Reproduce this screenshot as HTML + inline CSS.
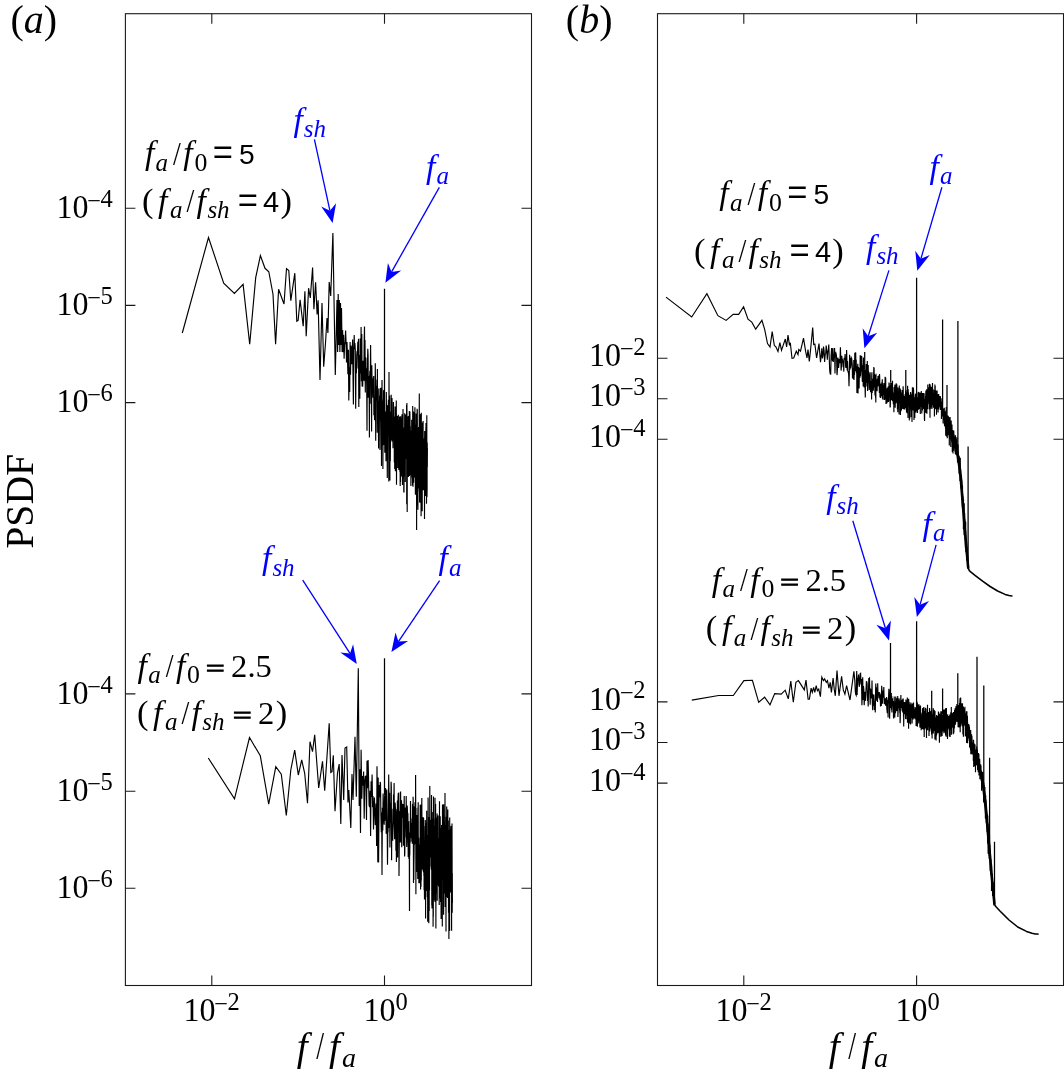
<!DOCTYPE html>
<html lang="en"><head><meta charset="utf-8"><title>PSDF spectra</title>
<style>html,body{margin:0;padding:0;background:#fff}svg{display:block}</style></head>
<body>
<svg width="1064" height="1080" viewBox="0 0 1064 1080">
<rect width="1064" height="1080" fill="#fff"/>
<rect x="125.4" y="13.7" width="406.1" height="971.8" stroke="#1a1a1a" stroke-width="1.1" fill="none"/>
<rect x="657.5" y="13.7" width="406.0" height="971.8" stroke="#1a1a1a" stroke-width="1.1" fill="none"/>
<path d="M211.8 13.7v10.0 M211.8 985.5v-10.0 M384.5 13.7v10.0 M384.5 985.5v-10.0 M125.4 208.2h10.0 M531.5 208.2h-10.0 M125.4 305.4h10.0 M531.5 305.4h-10.0 M125.4 402.6h10.0 M531.5 402.6h-10.0 M125.4 693.9h10.0 M531.5 693.9h-10.0 M125.4 791.2h10.0 M531.5 791.2h-10.0 M125.4 888.3h10.0 M531.5 888.3h-10.0 " stroke="#1a1a1a" stroke-width="1.1" fill="none"/>
<path d="M743.8 13.7v10.0 M743.8 985.5v-10.0 M916.6 13.7v10.0 M916.6 985.5v-10.0 M657.5 358.3h10.0 M1063.5 358.3h-10.0 M657.5 398.7h10.0 M1063.5 398.7h-10.0 M657.5 439.2h10.0 M1063.5 439.2h-10.0 M657.5 701.9h10.0 M1063.5 701.9h-10.0 M657.5 742.5h10.0 M1063.5 742.5h-10.0 M657.5 783.1h10.0 M1063.5 783.1h-10.0 " stroke="#1a1a1a" stroke-width="1.1" fill="none"/>
<path d="M182.3 333.0 L208.5 237.5 L223.7 283.2 L234.4 293.5 L243.1 284.4 L249.7 344.3 L255.7 277.7 L260.4 255.6 L265.0 268.3 L268.8 271.7 L273.0 294.2 L275.6 344.3 L278.6 289.2 L284.0 304.0 L286.5 268.6 L288.8 270.6 L290.8 300.7 L294.8 273.2 L296.8 321.3 L298.1 320.5 L300.1 299.9 L303.2 326.2 L304.9 291.2 L306.2 336.3 L308.6 288.2 L310.3 298.0 L312.6 267.6 L313.9 309.2 L315.6 282.2 L317.1 314.5 L318.1 300.2 L320.0 380.0 L322.0 303.0 L323.7 366.7 L325.5 343.0 L327.0 318.0 L327.9 333.0 L329.2 282.0 L330.7 296.0 L332.9 233.0 L335.3 375.0 L337.0 300.0 L337.6 352.0 L338.2 294.0 L338.8 345.0 L339.3 300.0 L339.9 352.0 L340.5 303.0 L341.0 345.0 L341.5 308.0 L342.1 352.0 L342.6 330.0 L343.1 352.2 L343.6 334.7 L344.1 358.7 L344.6 344.7 L345.1 342.2 L345.6 330.4 L346.1 343.7 L346.5 362.6 L347.0 341.9 L347.5 359.2 L347.9 374.3 L348.4 349.8 L348.8 400.4 L349.3 367.2 L349.7 391.9 L350.1 342.1 L350.5 374.7 L351.0 345.6 L351.4 349.0 L351.8 364.2 L352.2 353.2 L352.6 339.5 L353.0 375.5 L353.4 404.5 L353.8 350.6 L354.2 335.1 L354.5 349.1 L354.9 343.1 L355.3 349.8 L355.7 408.7 L356.0 368.6 L356.4 373.3 L356.7 356.1 L357.1 351.0 L357.5 353.4 L357.8 341.8 L358.1 368.6 L358.5 338.8 L358.8 407.0 L359.2 354.9 L359.5 391.0 L359.8 398.7 L360.2 338.6 L360.5 373.4 L360.8 360.8 L361.1 327.0 L361.4 381.2 L361.8 333.9 L362.1 386.4 L362.4 367.9 L362.7 386.7 L363.0 360.7 L363.3 373.7 L363.6 380.8 L363.9 373.4 L364.2 339.3 L364.5 326.6 L364.8 381.2 L365.0 340.0 L365.3 392.4 L365.6 357.2 L365.9 379.0 L366.2 368.3 L366.5 373.3 L366.7 385.4 L367.0 430.8 L367.3 358.0 L367.5 363.5 L367.8 348.7 L368.1 355.8 L368.3 397.7 L368.6 392.8 L368.9 395.1 L369.1 375.9 L369.4 437.4 L369.6 378.1 L369.9 370.8 L370.1 403.7 L370.4 368.5 L370.6 344.9 L370.9 378.2 L371.1 375.0 L371.4 383.9 L371.6 431.4 L371.8 365.2 L372.1 387.9 L372.3 377.5 L372.6 385.1 L372.8 390.8 L373.0 397.7 L373.2 385.4 L373.5 381.9 L373.7 376.1 L373.9 415.2 L374.2 411.3 L374.4 412.2 L374.6 420.3 L374.8 398.1 L375.0 399.6 L375.3 363.2 L375.5 389.7 L375.7 440.7 L375.9 379.6 L376.1 395.8 L376.3 400.4 L376.6 394.9 L376.8 388.8 L377.0 385.8 L377.2 432.7 L377.4 368.9 L377.6 417.5 L377.8 416.3 L378.0 403.3 L378.2 401.3 L378.4 423.9 L378.6 448.6 L378.8 388.5 L379.0 407.9 L379.2 414.1 L379.4 404.5 L379.6 419.1 L379.8 395.7 L380.0 450.1 L380.2 414.7 L380.4 388.0 L380.5 420.6 L380.7 389.7 L380.9 387.8 L381.1 394.6 L381.3 393.6 L381.5 466.1 L381.7 398.5 L381.9 404.1 L382.0 380.1 L382.2 401.8 L382.4 446.0 L382.6 405.9 L382.8 400.6 L382.9 469.0 L383.1 408.9 L383.3 411.5 L383.5 404.8 L383.6 390.2 L383.8 409.5 L384.0 445.0 L384.2 389.8 L384.3 422.4 L384.5 426.8 L384.7 431.0 L384.8 452.8 L385.0 428.4 L385.2 422.8 L385.3 415.8 L385.5 411.5 L385.7 447.0 L385.8 425.8 L386.0 461.3 L386.2 411.5 L386.3 391.9 L386.5 417.2 L386.7 436.9 L386.8 421.8 L387.0 405.6 L387.1 437.4 L387.3 478.0 L387.5 440.6 L387.6 425.7 L387.8 405.0 L387.9 418.9 L388.1 416.2 L388.2 412.7 L388.4 399.8 L388.5 425.1 L388.7 435.7 L388.8 481.5 L389.0 372.0 L389.1 404.6 L389.3 417.2 L389.4 429.6 L389.6 395.5 L389.7 398.7 L389.9 480.6 L390.0 425.0 L390.2 428.4 L390.3 461.3 L390.5 435.7 L390.6 417.1 L390.8 420.1 L390.9 411.8 L391.1 438.9 L391.2 394.8 L391.3 408.0 L391.5 440.0 L391.6 425.3 L391.8 415.6 L391.9 441.4 L392.0 398.0 L392.2 419.5 L392.3 419.9 L392.5 421.4 L392.6 421.8 L392.7 421.6 L392.9 418.3 L393.0 448.3 L393.1 434.9 L393.3 431.0 L393.4 401.9 L393.5 405.4 L393.7 433.0 L393.8 437.0 L393.9 428.6 L394.1 432.1 L394.2 427.8 L394.3 462.3 L394.5 433.5 L394.6 416.4 L394.7 469.1 L394.9 448.3 L395.0 436.5 L395.1 406.5 L395.3 450.5 L395.4 471.3 L395.5 413.8 L395.6 443.4 L395.8 411.9 L395.9 444.3 L396.0 424.2 L396.1 441.2 L396.3 400.5 L396.4 438.8 L396.5 484.8 L396.6 460.9 L396.8 419.5 L396.9 439.6 L397.0 420.0 L397.1 453.0 L397.2 420.0 L397.4 415.9 L397.5 430.8 L397.6 419.1 L397.7 434.2 L397.8 468.0 L398.0 446.5 L398.1 439.2 L398.2 429.8 L398.3 414.7 L398.4 429.3 L398.6 445.1 L398.7 432.7 L398.8 470.0 L398.9 421.8 L399.0 432.5 L399.1 463.9 L399.3 430.4 L399.4 457.1 L399.5 421.4 L399.6 416.4 L399.7 441.7 L399.8 440.0 L399.9 472.1 L400.1 459.1 L400.2 485.9 L400.3 426.4 L400.4 416.7 L400.5 481.9 L400.6 451.5 L400.7 416.2 L400.8 441.2 L400.9 464.8 L401.1 463.0 L401.2 433.3 L401.3 418.0 L401.4 455.0 L401.5 476.6 L401.6 419.8 L401.7 418.7 L401.8 446.9 L401.9 450.9 L402.0 414.3 L402.1 457.2 L402.2 429.3 L402.3 439.1 L402.5 485.1 L402.6 439.2 L402.7 477.7 L402.8 466.0 L402.9 468.9 L403.0 408.9 L403.1 417.0 L403.2 471.9 L403.3 468.3 L403.4 473.1 L403.5 431.5 L403.6 427.4 L403.7 463.7 L403.8 492.6 L403.9 488.5 L404.0 492.5 L404.1 436.3 L404.2 459.4 L404.3 442.8 L404.4 432.1 L404.5 476.6 L404.6 438.1 L404.7 413.2 L404.8 469.3 L404.9 444.9 L405.0 415.7 L405.1 439.3 L405.2 420.1 L405.3 482.1 L405.4 423.4 L405.5 443.6 L405.6 451.2 L405.7 414.6 L405.8 450.1 L405.9 422.7 L406.0 448.3 L406.1 436.3 L406.2 458.6 L406.3 456.6 L406.4 450.4 L406.5 448.8 L406.6 405.1 L406.7 441.8 L406.7 504.3 L406.8 477.9 L406.9 402.9 L407.0 424.4 L407.1 416.8 L407.2 511.9 L407.3 445.0 L407.4 426.3 L407.5 426.0 L407.6 467.1 L407.7 431.7 L407.8 431.4 L407.9 432.5 L408.0 459.2 L408.0 444.2 L408.1 455.6 L408.2 435.2 L408.3 416.0 L408.4 477.0 L408.5 417.0 L408.6 470.6 L408.7 465.6 L408.8 419.0 L408.9 446.5 L408.9 450.9 L409.0 431.6 L409.1 447.4 L409.2 440.8 L409.3 410.9 L409.4 476.1 L409.5 471.0 L409.6 442.9 L409.6 467.6 L409.7 463.5 L409.8 466.6 L409.9 411.4 L410.0 420.9 L410.1 453.4 L410.2 440.6 L410.3 430.5 L410.3 426.2 L410.4 475.1 L410.5 446.5 L410.6 457.3 L410.7 430.5 L410.8 448.5 L410.8 454.2 L410.9 486.0 L411.0 472.3 L411.1 464.1 L411.2 435.3 L411.3 465.9 L411.4 461.0 L411.4 447.9 L411.5 457.8 L411.6 446.0 L411.7 419.7 L411.8 463.5 L411.8 446.0 L411.9 463.9 L412.0 446.9 L412.1 471.6 L412.2 477.4 L412.3 440.4 L412.3 436.8 L412.4 475.0 L412.5 479.4 L412.6 485.4 L412.7 466.0 L412.7 406.1 L412.8 480.9 L412.9 428.2 L413.0 486.8 L413.1 429.0 L413.1 469.6 L413.2 427.7 L413.3 459.7 L413.4 411.4 L413.5 432.4 L413.5 438.0 L413.6 445.6 L413.7 482.8 L413.8 459.1 L413.9 437.3 L413.9 473.1 L414.0 454.1 L414.1 472.5 L414.2 441.3 L414.2 412.3 L414.3 455.8 L414.4 441.4 L414.5 463.0 L414.5 447.5 L414.6 477.6 L414.7 432.7 L414.8 441.7 L414.9 407.3 L414.9 431.5 L415.0 450.8 L415.1 431.5 L415.2 445.5 L415.2 450.1 L415.3 430.4 L415.4 494.2 L415.5 494.5 L415.5 451.8 L415.6 431.3 L415.7 446.8 L415.8 424.5 L415.8 447.4 L415.9 453.5 L416.0 432.2 L416.0 441.8 L416.1 447.4 L416.2 413.6 L416.3 447.3 L416.3 440.3 L416.4 443.9 L416.5 488.7 L416.6 481.5 L416.6 530.0 L416.7 454.0 L416.8 441.2 L416.8 426.1 L416.9 506.1 L417.0 458.9 L417.1 414.0 L417.1 408.8 L417.2 436.5 L417.3 409.7 L417.4 463.5 L417.4 485.6 L417.5 455.6 L417.6 445.9 L417.6 428.1 L417.7 435.8 L417.8 445.8 L417.8 452.6 L417.9 509.7 L418.0 452.1 L418.1 488.7 L418.1 473.4 L418.2 467.8 L418.3 436.9 L418.3 439.0 L418.4 452.2 L418.5 487.9 L418.5 452.1 L418.6 426.9 L418.7 437.1 L418.7 439.7 L418.8 462.6 L418.9 471.5 L419.0 446.1 L419.0 429.3 L419.1 458.3 L419.2 443.7 L419.2 428.4 L419.3 393.5 L419.4 460.0 L419.4 491.3 L419.5 476.3 L419.6 502.6 L419.6 458.0 L419.7 433.2 L419.8 444.4 L419.8 450.8 L419.9 444.8 L420.0 488.0 L420.0 478.5 L420.1 446.4 L420.2 469.1 L420.2 468.7 L420.3 459.0 L420.4 475.4 L420.4 453.9 L420.5 414.2 L420.5 453.0 L420.6 463.5 L420.7 444.1 L420.7 447.6 L420.8 503.0 L420.9 413.9 L420.9 457.1 L421.0 486.1 L421.1 516.3 L421.1 438.7 L421.2 440.9 L421.3 412.8 L421.3 488.7 L421.4 428.7 L421.5 435.6 L421.5 484.1 L421.6 426.5 L421.6 466.0 L421.7 483.8 L421.8 444.6 L421.8 491.0 L421.9 456.2 L422.0 457.1 L422.0 444.5 L422.1 452.0 L422.1 448.5 L422.2 511.3 L422.3 462.5 L422.3 460.3 L422.4 452.5 L422.5 466.8 L422.5 422.4 L422.6 464.5 L422.6 449.2 L422.7 441.6 L422.8 450.9 L422.8 480.7 L422.9 465.1 L423.0 451.3 L423.0 473.3 L423.1 442.7 L423.1 420.9 L423.2 452.6 L423.3 453.0 L423.3 490.2 L423.4 461.3 L423.4 467.1 L423.5 443.5 L423.6 471.3 L423.6 463.9 L423.7 465.3 L423.7 438.7 L423.8 480.6 L423.9 472.7 L423.9 485.4 L424.0 443.9 L424.0 479.0 L424.1 455.4 L424.2 441.3 L424.2 489.6 L424.3 451.9 L424.3 451.8 L424.4 465.2 L424.5 437.8 L424.5 519.0 L424.6 451.0 L424.6 444.0 L424.7 430.9 L424.7 439.7 L424.8 441.5 L424.9 470.3 L424.9 449.9 L425.0 461.3 L425.0 453.8 L425.1 447.5 L425.2 464.9 L425.2 469.5 L425.3 475.3 L425.3 458.4 L425.4 457.5 L425.4 484.9 L425.5 495.9 L425.6 455.6 L425.6 454.7 L425.7 487.4 L425.7 467.5 L425.8 463.3 L425.8 433.2 L425.9 426.9 L426.0 473.2 L426.0 423.0 L426.1 450.0 L426.1 441.3 L426.2 426.6 L426.2 489.3 L426.3 468.1 L426.3 451.7 L426.4 467.3 L426.5 465.9 L426.5 503.8 L426.6 495.1 L426.6 474.1 L426.7 484.3 L426.7 464.9 L426.8 415.2 L426.8 474.9 L426.9 485.2 L427.0 465.7 L427.0 496.9 L427.1 489.0 L427.1 452.7 L427.2 451.2 L427.2 442.6 L427.3 453.1 L427.3 467.1 L427.4 447.9" fill="none" stroke="#000" stroke-width="1.15" stroke-linejoin="miter" stroke-miterlimit="4"/>
<path d="M208.3 758.0 L234.5 798.8 L249.5 737.5 L260.3 755.8 L268.7 804.2 L275.8 766.7 L281.3 774.2 L286.3 815.5 L290.8 770.0 L294.7 750.0 L298.3 775.0 L301.7 760.0 L304.7 773.3 L307.5 803.3 L310.0 741.7 L312.5 751.7 L314.7 734.7 L318.7 788.0 L322.5 761.3 L324.7 790.8 L329.2 723.3 L330.8 772.5 L332.0 771.7 L333.3 755.3 L335.0 811.3 L337.5 773.0 L339.2 764.0 L340.8 824.0 L342.0 755.0 L343.7 800.0 L345.0 748.0 L346.7 747.0 L348.0 802.5 L348.8 790.0 L350.8 828.0 L352.0 774.0 L353.0 800.0 L355.0 736.7 L356.3 796.7 L358.3 668.3 L359.2 805.9 L359.8 769.3 L360.5 832.9 L361.1 749.8 L361.8 798.8 L362.4 776.1 L363.0 785.7 L363.6 771.6 L364.2 818.7 L364.8 781.3 L365.3 776.4 L365.9 776.1 L366.5 819.9 L367.0 760.7 L367.5 788.2 L368.1 760.1 L368.6 780.6 L369.1 805.2 L369.6 807.0 L370.1 790.7 L370.6 835.9 L371.1 781.3 L371.6 797.1 L372.1 774.5 L372.6 807.2 L373.0 796.1 L373.5 829.6 L373.9 814.8 L374.4 797.4 L374.8 807.2 L375.3 825.1 L375.7 822.6 L376.1 803.5 L376.6 846.0 L377.0 766.2 L377.4 808.8 L377.8 862.3 L378.2 777.5 L378.6 862.6 L379.0 804.0 L379.4 785.1 L379.8 797.2 L380.2 781.9 L380.5 783.1 L380.9 815.7 L381.3 832.2 L381.7 812.5 L382.0 875.0 L382.4 807.8 L382.8 830.5 L383.1 793.5 L383.5 814.0 L383.8 818.5 L384.2 824.8 L384.5 795.4 L384.8 821.0 L385.2 807.4 L385.5 788.0 L385.8 796.8 L386.2 833.8 L386.5 806.4 L386.8 789.4 L387.1 816.3 L387.5 864.8 L387.8 830.1 L388.1 830.6 L388.4 814.3 L388.7 774.6 L389.0 801.2 L389.3 828.1 L389.6 792.8 L389.9 847.5 L390.2 824.8 L390.5 803.1 L390.8 822.6 L391.1 781.8 L391.3 785.9 L391.6 860.3 L391.9 808.8 L392.2 838.1 L392.5 839.0 L392.7 840.7 L393.0 828.8 L393.3 822.6 L393.5 794.4 L393.8 806.6 L394.1 783.0 L394.3 814.6 L394.6 839.3 L394.9 827.5 L395.1 802.5 L395.4 807.5 L395.6 810.7 L395.9 850.8 L396.1 811.3 L396.4 862.0 L396.6 844.6 L396.9 809.0 L397.1 827.4 L397.4 800.4 L397.6 857.4 L397.8 810.1 L398.1 796.8 L398.3 793.1 L398.6 818.1 L398.8 792.6 L399.0 876.1 L399.3 840.8 L399.5 831.9 L399.7 811.1 L399.9 842.4 L400.2 815.7 L400.4 810.4 L400.6 791.6 L400.8 816.6 L401.1 842.5 L401.3 819.7 L401.5 800.3 L401.7 847.3 L401.9 809.2 L402.1 818.1 L402.3 803.7 L402.6 814.0 L402.8 810.8 L403.0 805.4 L403.2 804.1 L403.4 845.8 L403.6 813.1 L403.8 822.7 L404.0 814.9 L404.2 796.1 L404.4 822.4 L404.6 856.5 L404.8 853.3 L405.0 807.4 L405.2 837.4 L405.4 824.7 L405.6 819.1 L405.8 820.8 L406.0 827.3 L406.2 796.0 L406.4 812.7 L406.6 838.3 L406.7 846.9 L406.9 842.0 L407.1 805.6 L407.3 807.1 L407.5 812.3 L407.7 826.4 L407.9 813.2 L408.0 824.9 L408.2 857.1 L408.4 821.3 L408.6 839.3 L408.8 838.4 L408.9 859.0 L409.1 832.5 L409.3 853.8 L409.5 911.0 L409.6 841.3 L409.8 855.3 L410.0 821.0 L410.2 842.4 L410.3 828.1 L410.5 801.1 L410.7 823.6 L410.8 837.9 L411.0 818.4 L411.2 831.9 L411.4 832.7 L411.5 827.0 L411.7 834.1 L411.8 841.8 L412.0 839.9 L412.2 823.1 L412.3 843.8 L412.5 804.1 L412.7 824.3 L412.8 821.6 L413.0 824.7 L413.1 796.7 L413.3 810.2 L413.5 883.1 L413.6 806.2 L413.8 880.0 L413.9 866.0 L414.1 852.0 L414.2 833.6 L414.4 844.8 L414.5 821.8 L414.7 806.6 L414.9 843.9 L415.0 802.3 L415.2 831.2 L415.3 824.0 L415.5 815.5 L415.6 775.0 L415.8 839.0 L415.9 894.3 L416.0 807.9 L416.2 854.8 L416.3 815.2 L416.5 821.9 L416.6 841.9 L416.8 815.0 L416.9 848.5 L417.1 871.9 L417.2 826.8 L417.4 843.5 L417.5 865.3 L417.6 865.9 L417.8 879.0 L417.9 807.5 L418.1 826.9 L418.2 802.2 L418.3 874.5 L418.5 850.3 L418.6 837.9 L418.7 838.1 L418.9 883.2 L419.0 845.0 L419.2 853.6 L419.3 876.8 L419.4 862.6 L419.6 883.2 L419.7 851.8 L419.8 844.4 L420.0 857.6 L420.1 835.1 L420.2 804.8 L420.4 839.2 L420.5 819.6 L420.6 889.6 L420.7 828.8 L420.9 814.3 L421.0 886.8 L421.1 804.6 L421.3 880.6 L421.4 814.4 L421.5 852.7 L421.6 836.4 L421.8 798.0 L421.9 814.9 L422.0 830.5 L422.1 865.3 L422.3 869.2 L422.4 859.5 L422.5 847.3 L422.6 842.0 L422.8 837.9 L422.9 870.4 L423.0 869.5 L423.1 816.9 L423.3 839.6 L423.4 872.2 L423.5 837.3 L423.6 817.9 L423.7 830.6 L423.9 875.8 L424.0 855.6 L424.1 890.0 L424.2 858.7 L424.3 878.2 L424.5 899.5 L424.6 850.5 L424.7 866.3 L424.8 892.8 L424.9 842.1 L425.0 825.9 L425.2 868.0 L425.3 820.0 L425.4 875.1 L425.5 824.6 L425.6 918.6 L425.7 832.5 L425.8 838.3 L426.0 830.9 L426.1 838.3 L426.2 833.9 L426.3 857.9 L426.4 891.0 L426.5 822.6 L426.6 867.8 L426.7 810.7 L426.8 873.6 L427.0 846.0 L427.1 876.6 L427.2 835.0 L427.3 897.3 L427.4 850.1 L427.5 860.0 L427.6 846.4 L427.7 921.7 L427.8 894.9 L427.9 841.6 L428.0 850.6 L428.1 797.4 L428.3 857.5 L428.4 890.6 L428.5 840.9 L428.6 823.6 L428.7 820.1 L428.8 923.2 L428.9 852.0 L429.0 854.6 L429.1 833.9 L429.2 911.0 L429.3 816.9 L429.4 872.4 L429.5 890.5 L429.6 849.5 L429.7 843.4 L429.8 786.0 L429.9 824.5 L430.0 839.9 L430.1 857.6 L430.2 841.2 L430.3 837.9 L430.4 831.1 L430.5 839.4 L430.6 845.2 L430.7 819.8 L430.8 834.6 L430.9 825.1 L431.0 866.6 L431.1 853.3 L431.2 839.5 L431.3 869.6 L431.4 839.2 L431.5 795.1 L431.6 853.5 L431.7 819.3 L431.8 905.3 L431.9 850.1 L432.0 908.5 L432.1 855.6 L432.2 859.3 L432.3 823.9 L432.4 825.7 L432.5 862.6 L432.6 865.2 L432.7 818.9 L432.8 902.0 L432.8 812.1 L432.9 819.9 L433.0 871.9 L433.1 926.8 L433.2 836.3 L433.3 916.7 L433.4 846.0 L433.5 796.6 L433.6 896.8 L433.7 847.7 L433.8 900.2 L433.9 863.7 L434.0 856.2 L434.1 825.8 L434.1 832.8 L434.2 880.3 L434.3 838.5 L434.4 846.9 L434.5 859.4 L434.6 868.3 L434.7 841.2 L434.8 818.6 L434.9 867.3 L435.0 902.0 L435.0 797.8 L435.1 838.2 L435.2 830.5 L435.3 834.2 L435.4 861.9 L435.5 852.1 L435.6 804.0 L435.7 901.0 L435.7 851.3 L435.8 833.3 L435.9 928.4 L436.0 844.6 L436.1 871.5 L436.2 840.9 L436.3 857.4 L436.3 878.7 L436.4 876.6 L436.5 859.8 L436.6 837.9 L436.7 817.4 L436.8 863.3 L436.9 893.3 L436.9 838.5 L437.0 884.2 L437.1 813.6 L437.2 900.7 L437.3 851.7 L437.4 852.2 L437.4 846.6 L437.5 828.8 L437.6 845.1 L437.7 870.0 L437.8 875.5 L437.9 874.7 L437.9 867.3 L438.0 851.2 L438.1 815.4 L438.2 885.3 L438.3 854.1 L438.3 838.2 L438.4 878.5 L438.5 846.7 L438.6 886.5 L438.7 868.0 L438.8 849.6 L438.8 877.8 L438.9 883.4 L439.0 847.4 L439.1 853.5 L439.2 854.4 L439.2 905.0 L439.3 884.3 L439.4 837.7 L439.5 801.2 L439.5 876.6 L439.6 823.9 L439.7 898.2 L439.8 882.0 L439.9 834.7 L439.9 868.5 L440.0 861.8 L440.1 883.1 L440.2 887.7 L440.2 816.2 L440.3 834.4 L440.4 857.6 L440.5 898.7 L440.6 876.9 L440.6 902.0 L440.7 838.4 L440.8 882.6 L440.9 828.0 L440.9 850.4 L441.0 889.2 L441.1 919.0 L441.2 859.7 L441.2 849.0 L441.3 856.1 L441.4 846.2 L441.5 851.9 L441.5 836.6 L441.6 824.9 L441.7 871.8 L441.8 844.8 L441.8 830.4 L441.9 852.2 L442.0 867.6 L442.1 835.8 L442.1 867.2 L442.2 871.6 L442.3 926.5 L442.4 865.7 L442.4 848.2 L442.5 804.6 L442.6 852.4 L442.6 841.2 L442.7 865.5 L442.8 825.8 L442.9 879.9 L442.9 848.3 L443.0 804.8 L443.1 859.1 L443.1 865.2 L443.2 851.0 L443.3 861.5 L443.4 845.6 L443.4 836.3 L443.5 842.6 L443.6 861.9 L443.6 914.7 L443.7 804.3 L443.8 821.6 L443.9 847.2 L443.9 822.5 L444.0 893.4 L444.1 839.7 L444.1 857.0 L444.2 847.2 L444.3 854.4 L444.3 853.4 L444.4 873.8 L444.5 871.6 L444.5 858.4 L444.6 888.5 L444.7 873.4 L444.8 862.0 L444.8 847.3 L444.9 883.4 L445.0 825.4 L445.0 793.0 L445.1 892.3 L445.2 907.0 L445.2 842.5 L445.3 848.7 L445.4 842.0 L445.4 877.0 L445.5 867.9 L445.6 849.3 L445.6 825.0 L445.7 860.9 L445.8 847.2 L445.8 857.9 L445.9 851.4 L446.0 931.4 L446.0 865.9 L446.1 875.5 L446.2 856.5 L446.2 844.2 L446.3 816.7 L446.4 877.4 L446.4 897.0 L446.5 849.9 L446.6 861.3 L446.6 875.4 L446.7 806.4 L446.8 834.1 L446.8 867.7 L446.9 868.1 L446.9 869.7 L447.0 844.6 L447.1 844.6 L447.1 861.3 L447.2 886.9 L447.3 827.8 L447.3 834.2 L447.4 855.3 L447.5 898.0 L447.5 831.9 L447.6 889.3 L447.7 862.2 L447.7 810.7 L447.8 868.4 L447.8 809.6 L447.9 871.9 L448.0 830.6 L448.0 874.7 L448.1 877.7 L448.2 897.2 L448.2 843.3 L448.3 896.0 L448.3 820.6 L448.4 874.4 L448.5 849.2 L448.5 912.8 L448.6 865.4 L448.7 898.0 L448.7 873.0 L448.8 830.0 L448.8 851.2 L448.9 939.0 L449.0 834.7 L449.0 906.9 L449.1 855.6 L449.1 849.3 L449.2 900.5 L449.3 891.8 L449.3 865.9 L449.4 830.3 L449.4 875.5 L449.5 839.9 L449.6 930.9 L449.6 856.9 L449.7 817.6 L449.7 853.9 L449.8 889.3 L449.9 877.3 L449.9 851.9 L450.0 837.8 L450.0 855.8 L450.1 825.7 L450.2 853.1 L450.2 850.9 L450.3 877.5 L450.3 861.9 L450.4 892.6 L450.5 869.6 L450.5 828.5 L450.6 877.5 L450.6 846.3 L450.7 872.1 L450.8 842.4 L450.8 883.2 L450.9 853.8 L450.9 838.3 L451.0 843.0 L451.0 852.6 L451.1 852.3 L451.2 857.3 L451.2 862.9 L451.3 849.8 L451.3 890.4 L451.4 826.1 L451.4 882.4 L451.5 862.0 L451.6 930.7 L451.6 867.9 L451.7 839.7 L451.7 835.8 L451.8 869.7 L451.8 843.0 L451.9 907.3 L452.0 847.2 L452.0 823.5 L452.1 857.0 L452.1 885.0 L452.2 878.9 L452.2 912.8 L452.3 873.1 L452.4 903.0" fill="none" stroke="#000" stroke-width="1.15" stroke-linejoin="miter" stroke-miterlimit="4"/>
<path d="M666.0 297.1 L691.7 317.0 L706.9 293.7 L717.9 315.7 L726.1 320.4 L733.2 314.3 L738.7 314.3 L743.6 306.7 L748.0 319.1 L751.8 322.1 L755.7 329.2 L761.9 320.4 L764.6 329.2 L767.5 343.6 L770.0 347.0 L772.2 331.7 L774.3 345.3 L776.0 347.0 L778.0 351.5 L779.9 342.7 L781.5 350.4 L785.3 339.0 L786.6 347.0 L788.0 335.1 L789.5 345.3 L790.3 342.7 L792.0 358.3 L793.7 358.0 L796.3 351.2 L798.0 354.6 L798.8 349.5 L800.5 351.2 L803.5 338.2 L805.6 351.2 L807.0 358.0 L808.0 349.5 L809.3 361.4 L810.6 349.5 L812.7 327.5 L813.7 344.4 L814.9 344.1 L816.6 358.0 L819.0 343.6 L820.5 362.2 L821.6 351.2 L821.8 348.4 L822.4 358.5 L823.0 355.1 L823.5 346.5 L824.1 350.9 L824.6 361.9 L825.2 354.5 L825.7 353.4 L826.2 345.5 L826.8 350.7 L827.3 359.6 L827.8 351.9 L828.3 350.1 L828.8 344.6 L829.2 357.0 L829.7 370.4 L830.2 373.8 L830.7 374.1 L831.1 355.6 L831.6 348.0 L832.0 358.5 L832.5 361.1 L832.9 348.0 L833.3 362.0 L833.8 354.4 L834.2 356.5 L834.6 348.1 L835.0 373.6 L835.4 353.4 L835.8 352.7 L836.3 354.7 L836.6 357.3 L837.0 375.1 L837.4 370.3 L837.8 357.7 L838.2 359.0 L838.6 368.0 L838.9 364.4 L839.3 359.1 L839.7 363.1 L840.0 360.8 L840.4 347.3 L840.8 359.0 L841.1 370.6 L841.5 366.1 L841.8 355.7 L842.1 362.7 L842.5 359.6 L842.8 360.3 L843.2 367.3 L843.5 365.4 L843.8 371.6 L844.1 358.2 L844.5 358.2 L844.8 359.6 L845.1 354.0 L845.4 360.2 L845.7 367.2 L846.0 367.5 L846.3 367.5 L846.6 350.0 L846.9 359.7 L847.2 370.5 L847.5 361.1 L847.8 370.7 L848.1 371.8 L848.4 371.0 L848.7 376.0 L849.0 386.2 L849.3 374.1 L849.6 354.7 L849.8 370.1 L850.1 357.9 L850.4 367.1 L850.7 367.5 L850.9 366.7 L851.2 356.4 L851.5 365.2 L851.7 358.4 L852.0 361.9 L852.3 365.7 L852.5 378.5 L852.8 367.9 L853.0 371.4 L853.3 368.2 L853.5 379.0 L853.8 359.9 L854.0 380.0 L854.3 367.4 L854.5 375.0 L854.8 353.1 L855.0 370.0 L855.3 352.2 L855.5 371.2 L855.7 352.5 L856.0 369.8 L856.2 359.7 L856.4 373.1 L856.7 366.0 L856.9 392.9 L857.1 367.2 L857.4 393.1 L857.6 370.2 L857.8 363.7 L858.0 393.5 L858.3 372.3 L858.5 367.0 L858.7 368.8 L858.9 368.1 L859.1 388.6 L859.4 370.1 L859.6 370.7 L859.8 378.1 L860.0 373.1 L860.2 355.2 L860.4 376.3 L860.6 359.0 L860.8 355.6 L861.0 360.8 L861.2 371.8 L861.5 366.6 L861.7 356.1 L861.9 374.3 L862.1 374.9 L862.3 381.1 L862.5 381.9 L862.7 374.1 L862.9 366.2 L863.1 364.9 L863.2 386.6 L863.4 357.6 L863.6 366.0 L863.8 368.1 L864.0 365.0 L864.2 387.6 L864.4 376.0 L864.6 373.0 L864.8 369.5 L865.0 378.2 L865.1 389.6 L865.3 397.4 L865.5 372.4 L865.7 383.1 L865.9 376.5 L866.1 364.0 L866.2 377.6 L866.4 363.9 L866.6 373.5 L866.8 367.5 L866.9 386.4 L867.1 376.2 L867.3 361.0 L867.5 373.6 L867.6 390.9 L867.8 381.3 L868.0 373.9 L868.2 365.1 L868.3 377.9 L868.5 371.4 L868.7 374.2 L868.8 377.0 L869.0 383.8 L869.2 390.0 L869.3 385.9 L869.5 380.8 L869.7 384.5 L869.8 379.7 L870.0 372.2 L870.2 373.8 L870.3 384.2 L870.5 390.4 L870.6 392.1 L870.8 382.2 L871.0 388.7 L871.1 381.1 L871.3 382.1 L871.4 385.5 L871.6 399.6 L871.7 377.0 L871.9 372.3 L872.0 381.6 L872.2 392.9 L872.3 388.8 L872.5 381.6 L872.7 384.3 L872.8 382.2 L873.0 378.8 L873.1 388.6 L873.3 390.8 L873.4 386.8 L873.6 378.1 L873.7 372.7 L873.8 367.0 L874.0 387.6 L874.1 368.0 L874.3 382.1 L874.4 373.9 L874.6 385.1 L874.7 376.9 L874.9 391.3 L875.0 395.5 L875.1 374.9 L875.3 381.2 L875.4 376.4 L875.6 397.8 L875.7 378.6 L875.8 402.4 L876.0 373.8 L876.1 386.6 L876.3 383.0 L876.4 389.1 L876.5 388.1 L876.7 382.3 L876.8 379.3 L876.9 384.7 L877.1 391.3 L877.2 386.5 L877.3 384.3 L877.5 380.9 L877.6 378.5 L877.7 385.8 L877.9 386.4 L878.0 376.1 L878.1 377.9 L878.3 379.9 L878.4 382.5 L878.5 381.6 L878.7 382.4 L878.8 375.5 L878.9 382.3 L879.0 385.1 L879.2 385.5 L879.3 389.6 L879.4 393.1 L879.5 374.1 L879.7 377.1 L879.8 384.7 L879.9 383.0 L880.0 396.9 L880.2 397.4 L880.3 389.4 L880.4 385.1 L880.5 383.7 L880.7 397.9 L880.8 392.0 L880.9 392.7 L881.0 387.3 L881.1 394.8 L881.3 392.1 L881.4 396.3 L881.5 383.4 L881.6 387.2 L881.7 393.4 L881.9 382.1 L882.0 390.9 L882.1 385.5 L882.2 383.5 L882.3 379.3 L882.5 398.7 L882.6 383.6 L882.7 389.0 L882.8 398.7 L882.9 390.7 L883.0 399.8 L883.1 384.9 L883.3 388.2 L883.4 387.9 L883.5 391.6 L883.6 391.4 L883.7 388.9 L883.8 395.0 L883.9 387.6 L884.0 383.1 L884.2 384.4 L884.3 384.9 L884.4 400.0 L884.5 392.6 L884.6 391.3 L884.7 383.2 L884.8 388.7 L884.9 399.5 L885.0 391.5 L885.1 376.8 L885.3 384.1 L885.4 398.9 L885.5 392.8 L885.6 393.3 L885.7 377.5 L885.8 392.9 L885.9 389.3 L886.0 403.9 L886.1 392.6 L886.2 398.2 L886.3 394.0 L886.4 403.2 L886.5 389.4 L886.6 401.2 L886.7 391.9 L886.8 403.5 L886.9 395.0 L887.1 387.8 L887.2 397.6 L887.3 387.7 L887.4 402.2 L887.5 389.9 L887.6 395.8 L887.7 393.6 L887.8 399.0 L887.9 391.3 L888.0 392.6 L888.1 396.4 L888.2 386.4 L888.3 390.7 L888.4 394.9 L888.5 402.1 L888.6 396.1 L888.7 390.1 L888.8 401.0 L888.9 393.7 L889.0 382.5 L889.1 394.7 L889.2 383.2 L889.3 394.0 L889.4 396.4 L889.4 388.4 L889.5 395.2 L889.6 396.0 L889.7 396.2 L889.8 387.5 L889.9 386.0 L890.0 392.1 L890.1 407.5 L890.2 389.2 L890.3 407.2 L890.4 401.2 L890.5 384.9 L890.6 398.0 L890.7 382.4 L890.8 399.1 L890.9 388.4 L891.0 382.9 L891.1 386.9 L891.1 399.9 L891.2 393.0 L891.3 397.5 L891.4 382.7 L891.5 389.3 L891.6 388.8 L891.7 397.8 L891.8 393.8 L891.9 393.1 L892.0 393.3 L892.1 391.6 L892.2 399.5 L892.2 389.9 L892.3 401.1 L892.4 394.7 L892.5 380.8 L892.6 400.3 L892.7 398.1 L892.8 396.1 L892.9 398.7 L893.0 401.4 L893.0 395.9 L893.1 400.3 L893.2 394.6 L893.3 404.3 L893.4 400.3 L893.5 401.9 L893.6 396.5 L893.7 392.6 L893.7 394.7 L893.8 404.7 L893.9 412.2 L894.0 397.9 L894.1 387.1 L894.2 389.2 L894.3 393.2 L894.3 392.6 L894.4 395.3 L894.5 401.9 L894.6 393.4 L894.7 400.4 L894.8 399.7 L894.8 385.0 L894.9 400.5 L895.0 384.5 L895.1 404.0 L895.2 407.7 L895.3 397.5 L895.3 403.8 L895.4 398.6 L895.5 395.8 L895.6 399.6 L895.7 390.5 L895.8 393.8 L895.8 392.5 L895.9 392.5 L896.0 399.9 L896.1 403.3 L896.2 383.3 L896.2 400.5 L896.3 394.4 L896.4 397.3 L896.5 392.5 L896.6 386.2 L896.6 392.2 L896.7 390.7 L896.8 384.3 L896.9 388.1 L897.0 390.2 L897.0 397.5 L897.1 402.2 L897.2 389.2 L897.3 395.2 L897.4 409.4 L897.4 400.4 L897.5 404.3 L897.6 393.3 L897.7 408.8 L897.7 396.7 L897.8 412.3 L897.9 392.8 L898.0 387.5 L898.1 393.9 L898.1 392.0 L898.2 396.2 L898.3 393.2 L898.4 396.1 L898.4 396.8 L898.5 394.7 L898.6 393.4 L898.7 397.6 L898.7 400.0 L898.8 408.4 L898.9 394.1 L899.0 399.6 L899.0 397.7 L899.1 414.6 L899.2 396.3 L899.3 385.6 L899.3 396.1 L899.4 397.3 L899.5 400.4 L899.6 393.7 L899.6 400.0 L899.7 403.3 L899.8 387.9 L899.9 395.5 L899.9 395.0 L900.0 398.4 L900.1 393.0 L900.1 399.3 L900.2 400.0 L900.3 401.7 L900.4 395.2 L900.4 414.9 L900.5 389.2 L900.6 396.5 L900.7 395.0 L900.7 411.6 L900.8 397.1 L900.9 394.7 L900.9 406.2 L901.0 399.4 L901.1 398.1 L901.2 402.3 L901.2 406.4 L901.3 398.8 L901.4 410.4 L901.4 398.2 L901.5 403.1 L901.6 408.1 L901.6 399.2 L901.7 393.0 L901.8 399.4 L901.9 391.9 L901.9 396.9 L902.0 398.5 L902.1 404.2 L902.1 390.0 L902.2 393.0 L902.3 392.9 L902.3 396.7 L902.4 400.3 L902.5 399.1 L902.5 407.9 L902.6 392.3 L902.7 409.1 L902.7 396.8 L902.8 403.7 L902.9 399.2 L902.9 406.1 L903.0 399.5 L903.1 403.3 L903.1 386.2 L903.2 388.1 L903.3 398.4 L903.4 395.3 L903.4 402.5 L903.5 400.5 L903.6 403.6 L903.6 409.2 L903.7 400.6 L903.7 406.5 L903.8 403.0 L903.9 397.0 L903.9 397.0 L904.0 398.2 L904.1 396.2 L904.1 402.4 L904.2 407.1 L904.3 401.2 L904.3 408.6 L904.4 396.0 L904.5 397.9 L904.5 409.4 L904.6 403.0 L904.7 402.2 L904.7 405.8 L904.8 396.5 L904.9 402.1 L904.9 396.9 L905.0 407.9 L905.0 407.3 L905.1 394.0 L905.2 402.2 L905.2 394.8 L905.3 395.9 L905.4 408.3 L905.4 398.2 L905.5 399.6 L905.6 400.1 L905.6 391.1 L905.7 397.5 L905.7 394.5 L905.8 406.1 L905.9 392.6 L905.9 395.8 L906.0 390.0 L906.1 392.6 L906.1 403.0 L906.2 399.4 L906.2 397.3 L906.3 410.0 L906.4 392.3 L906.4 400.5 L906.5 412.6 L906.5 393.1 L906.6 406.1 L906.7 401.1 L906.7 410.4 L906.8 398.2 L906.9 396.8 L906.9 401.7 L907.0 395.0 L907.0 402.6 L907.1 399.4 L907.2 410.0 L907.2 413.2 L907.3 393.1 L907.3 402.3 L907.4 404.1 L907.5 402.4 L907.5 410.7 L907.6 397.3 L907.6 385.7 L907.7 406.1 L907.8 396.4 L907.8 408.2 L907.9 401.0 L907.9 409.4 L908.0 417.9 L908.1 402.6 L908.1 397.0 L908.2 393.2 L908.2 389.2 L908.3 401.5 L908.3 399.8 L908.4 394.4 L908.5 395.7 L908.5 392.4 L908.6 401.6 L908.6 398.4 L908.7 402.6 L908.8 397.9 L908.8 406.4 L908.9 404.1 L908.9 403.1 L909.0 404.1 L909.0 396.9 L909.1 404.9 L909.2 397.7 L909.2 395.5 L909.3 404.5 L909.3 420.4 L909.4 395.1 L909.4 406.8 L909.5 417.2 L909.6 401.0 L909.6 401.5 L909.7 399.6 L909.7 403.6 L909.8 403.6 L909.8 418.4 L909.9 396.4 L909.9 396.9 L910.0 397.8 L910.1 398.4 L910.1 400.1 L910.2 409.2 L910.2 394.7 L910.3 396.5 L910.3 402.6 L910.4 408.5 L910.4 400.3 L910.5 393.6 L910.6 392.0 L910.6 404.8 L910.7 407.0 L910.7 403.9 L910.8 393.4 L910.8 397.4 L910.9 403.4 L910.9 404.3 L911.0 404.2 L911.0 397.0 L911.1 410.5 L911.2 401.9 L911.2 417.1 L911.3 398.6 L911.3 409.2 L911.4 400.6 L911.4 407.2 L911.5 404.1 L911.5 396.1 L911.6 404.2 L911.6 395.6 L911.7 405.6 L911.7 399.0 L911.8 408.6 L911.9 409.6 L911.9 396.3 L912.0 422.0 L912.0 395.0 L912.1 396.7 L912.1 393.4 L912.2 396.3 L912.2 404.0 L912.3 392.5 L912.3 403.8 L912.4 387.3 L912.4 399.3 L912.5 401.4 L912.5 397.8 L912.6 401.1 L912.6 397.8 L912.7 401.6 L912.8 397.1 L912.8 410.4 L912.9 405.3 L912.9 403.0 L913.0 407.9 L913.0 396.2 L913.1 409.6 L913.1 398.7 L913.2 406.6 L913.2 402.3 L913.3 409.2 L913.3 398.2 L913.4 387.6 L913.4 408.4 L913.5 400.7 L913.5 400.0 L913.6 404.0 L913.6 389.7 L913.7 405.8 L913.7 395.1 L913.8 395.3 L913.8 404.8 L913.9 398.7 L913.9 398.1 L914.0 420.0 L914.0 404.4 L914.1 412.9 L914.1 404.8 L914.2 404.1 L914.3 404.5 L914.4 404.0 L914.5 411.2 L914.6 397.2 L914.7 407.2 L914.8 417.9 L914.9 406.4 L915.0 406.1 L915.1 412.7 L915.2 402.1 L915.3 412.8 L915.4 394.2 L915.5 393.7 L915.6 406.9 L915.6 412.5 L915.7 398.8 L915.8 399.2 L915.9 402.2 L916.0 395.7 L916.1 411.3 L916.2 396.0 L916.3 404.9 L916.4 402.7 L916.5 410.9 L916.6 405.0 L916.7 400.4 L916.8 407.7 L916.9 406.1 L917.0 408.9 L917.1 401.4 L917.2 413.0 L917.3 403.7 L917.3 408.7 L917.4 397.8 L917.5 413.0 L917.6 402.8 L917.7 396.8 L917.8 397.5 L917.9 406.4 L918.0 392.4 L918.1 398.0 L918.2 406.8 L918.3 394.1 L918.3 403.7 L918.4 403.5 L918.5 409.8 L918.6 392.6 L918.7 391.9 L918.8 399.9 L918.9 398.4 L919.0 406.3 L919.1 393.2 L919.1 407.9 L919.2 408.9 L919.3 406.5 L919.4 400.6 L919.5 396.2 L919.6 400.0 L919.7 406.9 L919.7 400.0 L919.8 398.4 L919.9 398.4 L920.0 392.5 L920.1 406.9 L920.2 401.4 L920.3 414.1 L920.3 401.0 L920.4 393.1 L920.5 399.1 L920.6 398.8 L920.7 394.4 L920.8 404.4 L920.9 396.2 L920.9 404.3 L921.0 402.1 L921.1 407.0 L921.2 405.2 L921.3 390.9 L921.4 398.5 L921.4 400.6 L921.5 402.0 L921.6 403.2 L921.7 407.2 L921.8 413.5 L921.8 406.1 L921.9 404.6 L922.0 406.0 L922.1 406.7 L922.2 397.1 L922.2 392.9 L922.3 398.3 L922.4 396.9 L922.5 410.4 L922.6 401.7 L922.7 401.7 L922.7 406.7 L922.8 404.7 L922.9 395.4 L923.0 395.0 L923.0 396.8 L923.1 400.2 L923.2 408.6 L923.3 393.0 L923.4 397.7 L923.4 399.7 L923.5 397.6 L923.6 401.4 L923.7 405.7 L923.8 408.9 L923.8 406.5 L923.9 396.5 L924.0 405.5 L924.1 395.3 L924.1 393.3 L924.2 409.1 L924.3 399.1 L924.4 419.4 L924.4 402.8 L924.5 404.1 L924.6 421.0 L924.7 406.2 L924.7 404.8 L924.8 399.5 L924.9 407.1 L925.0 403.0 L925.0 411.9 L925.1 412.4 L925.2 399.0 L925.3 405.8 L925.3 400.1 L925.4 401.1 L925.5 397.6 L925.6 395.7 L925.6 408.9 L925.7 403.1 L925.8 392.3 L925.9 408.7 L925.9 390.5 L926.0 408.0 L926.1 412.9 L926.2 398.6 L926.2 396.1 L926.3 405.2 L926.4 403.7 L926.4 407.2 L926.5 392.2 L926.6 407.4 L926.7 393.4 L926.7 389.3 L926.8 395.9 L926.9 413.7 L926.9 397.4 L927.0 398.9 L927.1 401.9 L927.2 396.3 L927.2 401.7 L927.3 401.9 L927.4 402.0 L927.4 391.8 L927.5 402.9 L927.6 394.7 L927.7 399.6 L927.7 399.8 L927.8 384.4 L927.9 393.5 L927.9 409.2 L928.0 394.2 L928.1 400.7 L928.1 401.1 L928.2 404.1 L928.3 403.6 L928.3 395.2 L928.4 387.3 L928.5 397.4 L928.5 399.9 L928.6 398.1 L928.7 395.7 L928.8 394.9 L928.8 400.0 L928.9 391.5 L929.0 401.8 L929.0 397.4 L929.1 395.7 L929.2 399.8 L929.2 399.8 L929.3 396.7 L929.4 383.7 L929.4 397.7 L929.5 398.3 L929.6 409.3 L929.6 392.9 L929.7 399.7 L929.8 398.8 L929.8 398.4 L929.9 408.1 L930.0 417.8 L930.0 393.2 L930.1 384.2 L930.2 400.5 L930.2 401.6 L930.3 409.0 L930.3 385.8 L930.4 392.1 L930.5 398.7 L930.5 399.1 L930.6 399.1 L930.7 392.5 L930.7 407.5 L930.8 399.1 L930.9 393.1 L930.9 402.3 L931.0 395.9 L931.1 391.5 L931.1 395.7 L931.2 399.6 L931.2 398.5 L931.3 389.5 L931.4 389.5 L931.4 386.8 L931.5 391.8 L931.6 407.6 L931.6 396.0 L931.7 397.2 L931.8 408.5 L931.8 395.4 L931.9 398.9 L931.9 409.0 L932.0 402.2 L932.1 390.9 L932.1 394.2 L932.2 392.4 L932.2 392.6 L932.3 391.7 L932.4 396.8 L932.4 388.9 L932.5 383.1 L932.6 396.9 L932.6 400.4 L932.7 389.2 L932.7 404.3 L932.8 391.7 L932.9 394.6 L932.9 391.1 L933.0 397.0 L933.0 394.4 L933.1 405.3 L933.2 401.6 L933.2 391.5 L933.3 389.5 L933.3 391.8 L933.4 407.8 L933.5 396.0 L933.5 406.9 L933.6 403.7 L933.6 395.3 L933.7 394.7 L933.8 397.8 L933.8 401.2 L933.9 395.9 L933.9 394.8 L934.0 400.5 L934.1 394.0 L934.1 399.5 L934.2 394.4 L934.2 405.6 L934.3 393.3 L934.4 408.4 L934.4 416.4 L934.5 392.7 L934.5 396.9 L934.6 395.2 L934.6 390.1 L934.7 391.6 L934.8 401.2 L934.8 402.1 L934.9 384.4 L934.9 403.7 L935.0 401.9 L935.0 408.9 L935.1 409.3 L935.2 396.1 L935.2 385.9 L935.3 406.7 L935.3 402.3 L935.4 400.8 L935.4 406.3 L935.5 401.6 L935.6 408.7 L935.6 395.4 L935.7 407.3 L935.7 394.1 L935.8 407.3 L935.8 398.8 L935.9 408.2 L936.0 393.7 L936.0 391.6 L936.1 407.0 L936.1 398.5 L936.2 390.4 L936.2 390.5 L936.3 401.8 L936.3 400.3 L936.4 399.9 L936.5 403.0 L936.5 414.8 L936.6 405.9 L936.6 404.3 L936.7 409.5 L936.7 401.2 L936.8 390.6 L936.8 409.6 L936.9 401.0 L936.9 396.6 L937.0 402.9 L937.1 392.3 L937.1 390.5 L937.2 398.5 L937.2 398.8 L937.3 396.6 L937.3 398.8 L937.4 403.4 L937.4 405.3 L937.5 394.2 L937.5 400.1 L937.6 408.6 L937.7 405.6 L937.7 401.8 L937.8 401.5 L937.8 395.6 L937.9 400.9 L937.9 404.4 L938.0 403.3 L938.0 412.0 L938.1 412.5 L938.1 411.0 L938.2 401.5 L938.2 401.2 L938.3 405.4 L938.3 409.3 L938.4 400.0 L938.4 397.7 L938.5 405.3 L938.6 409.3 L938.6 394.2 L938.7 406.0 L938.7 394.1 L938.8 399.0 L938.8 403.7 L938.9 397.5 L938.9 397.6 L939.0 403.2 L939.0 401.0 L939.1 401.5 L939.1 407.1 L939.2 397.7 L939.2 404.3 L939.3 398.3 L939.3 401.4 L939.4 398.7 L939.4 404.4 L939.5 406.0 L939.5 397.7 L939.6 406.0 L939.6 396.5 L939.7 402.8 L939.7 397.1 L939.8 401.9 L939.8 404.4 L939.9 406.4 L939.9 404.4 L940.0 402.5 L940.0 396.0 L940.1 407.9 L940.1 402.8 L940.2 404.1 L940.3 409.5 L940.3 409.9 L940.4 396.2 L940.5 404.2 L940.6 407.8 L940.6 405.9 L940.7 407.3 L940.8 402.7 L940.9 406.8 L940.9 404.5 L941.0 408.3 L941.1 401.9 L941.2 408.9 L941.2 404.7 L941.3 402.6 L941.4 402.1 L941.4 418.9 L941.5 409.6 L941.6 401.7 L941.7 407.9 L941.7 407.9 L941.8 402.7 L941.9 398.3 L941.9 401.3 L942.0 406.2 L942.1 412.1 L942.2 410.0 L942.2 413.0 L942.3 407.5 L942.4 409.4 L942.4 416.6 L942.5 414.2 L942.6 414.6 L942.7 408.6 L942.7 409.6 L942.8 411.6 L942.9 412.3 L942.9 413.6 L943.0 409.5 L943.1 423.5 L943.1 412.5 L943.2 410.8 L943.3 414.9 L943.4 408.8 L943.4 412.6 L943.5 411.5 L943.6 417.2 L943.6 412.6 L943.7 408.6 L943.8 415.6 L943.8 415.3 L943.9 411.5 L944.0 419.5 L944.0 419.8 L944.1 413.6 L944.2 420.3 L944.2 413.9 L944.3 407.8 L944.4 416.7 L944.4 424.7 L944.5 421.9 L944.6 426.3 L944.6 411.5 L944.7 415.7 L944.8 416.4 L944.8 423.6 L944.9 412.3 L945.0 422.1 L945.0 426.0 L945.1 413.4 L945.2 417.7 L945.2 420.0 L945.3 421.9 L945.4 416.5 L945.4 427.8 L945.5 418.8 L945.6 415.1 L945.6 415.8 L945.7 435.7 L945.8 411.0 L945.8 416.4 L945.9 423.7 L946.0 423.3 L946.0 410.5 L946.1 428.8 L946.1 410.1 L946.2 415.2 L946.3 407.1 L946.3 425.8 L946.4 431.2 L946.5 425.9 L946.5 421.9 L946.6 421.6 L946.7 436.7 L946.7 420.3 L946.8 423.8 L946.8 432.0 L946.9 423.7 L947.0 415.0 L947.0 429.0 L947.1 420.0 L947.2 428.7 L947.2 419.3 L947.3 438.3 L947.3 419.6 L947.4 416.2 L947.5 424.2 L947.5 428.9 L947.6 420.5 L947.6 417.9 L947.7 424.1 L947.8 431.2 L947.8 429.3 L947.9 426.8 L948.0 430.7 L948.0 422.6 L948.1 425.9 L948.1 424.4 L948.2 432.2 L948.3 415.7 L948.3 429.8 L948.4 432.2 L948.4 434.9 L948.5 425.9 L948.6 434.2 L948.6 427.2 L948.7 421.4 L948.7 420.1 L948.8 419.2 L948.9 434.9 L948.9 426.9 L949.0 432.0 L949.0 436.6 L949.1 417.3 L949.2 425.5 L949.2 422.2 L949.3 445.5 L949.3 421.3 L949.4 418.1 L949.5 436.5 L949.5 417.8 L949.6 425.3 L949.6 432.5 L949.7 425.9 L949.7 427.8 L949.8 436.4 L949.9 426.0 L949.9 439.2 L950.0 434.1 L950.0 427.2 L950.1 417.1 L950.1 438.6 L950.2 432.9 L950.3 434.9 L950.3 433.3 L950.4 425.9 L950.4 427.5 L950.5 434.0 L950.5 430.7 L950.6 434.6 L950.7 437.1 L950.7 434.9 L950.8 447.0 L950.8 426.8 L950.9 431.6 L950.9 440.9 L951.0 439.6 L951.1 429.2 L951.1 434.6 L951.2 439.3 L951.2 420.4 L951.3 427.2 L951.3 441.3 L951.4 433.0 L951.4 432.9 L951.5 430.5 L951.6 426.0 L951.6 426.0 L951.7 430.6 L951.7 428.4 L951.8 429.8 L951.8 438.3 L951.9 439.0 L951.9 432.3 L952.0 424.4 L952.1 433.1 L952.1 442.6 L952.2 432.0 L952.2 436.1 L952.3 452.1 L952.3 433.5 L952.4 442.2 L952.4 432.9 L952.5 430.0 L952.5 436.2 L952.6 438.9 L952.7 436.8 L952.7 430.6 L952.8 436.4 L952.8 438.2 L952.9 436.0 L952.9 448.2 L953.0 453.5 L953.0 430.7 L953.1 430.3 L953.1 441.9 L953.2 433.5 L953.2 447.1 L953.3 432.0 L953.3 435.8 L953.4 443.7 L953.5 445.5 L953.5 450.7 L953.6 439.2 L953.6 430.8 L953.7 430.6 L953.7 440.2 L953.8 431.3 L953.8 435.2 L953.9 437.1 L953.9 438.3 L954.0 438.2 L954.0 446.9 L954.1 446.3 L954.1 434.3 L954.2 442.1 L954.2 436.2 L954.3 438.8 L954.3 439.1 L954.4 438.3 L954.4 443.1 L954.5 441.4 L954.5 438.2 L954.6 448.4 L954.6 439.6 L954.7 437.5 L954.7 441.9 L954.8 439.7 L954.8 441.0 L954.9 451.4 L954.9 444.1 L955.0 440.5 L955.0 444.0 L955.1 438.5 L955.2 436.8 L955.2 447.2 L955.3 448.0 L955.3 453.6 L955.4 439.8 L955.4 454.0 L955.5 442.5 L955.5 435.3 L955.6 445.5 L955.7 446.2 L955.7 449.8 L955.8 454.7 L955.9 439.3 L955.9 441.5 L956.0 445.7 L956.1 446.9 L956.1 446.8 L956.2 445.8 L956.3 448.8 L956.3 447.9 L956.4 442.4 L956.5 447.3 L956.5 447.2 L956.6 449.1 L956.6 448.8 L956.7 450.1 L956.8 444.3 L956.8 449.7 L956.9 437.2 L957.0 442.2 L957.0 453.3 L957.1 455.7 L957.2 450.0 L957.2 451.5 L957.3 445.8 L957.4 449.0 L957.4 444.0 L957.5 462.5 L957.5 446.4 L957.6 456.2 L957.7 444.8 L957.7 455.1 L957.8 459.8 L957.9 454.1 L957.9 456.1 L958.0 460.6 L958.0 458.4 L958.1 444.6 L958.2 461.0 L958.2 461.0 L958.3 456.4 L958.4 461.1 L958.4 458.1 L958.5 461.1 L958.5 456.3 L958.6 463.8 L958.7 462.7 L958.7 455.7 L958.8 462.8 L958.8 459.8 L958.9 462.9 L959.0 473.7 L959.0 455.5 L959.1 467.3 L959.1 456.2 L959.2 464.3 L959.3 456.4 L959.3 466.0 L959.4 462.7 L959.4 461.3 L959.5 475.2 L959.6 458.8 L959.6 474.5 L959.7 461.5 L959.7 469.0 L959.8 468.8 L959.9 462.8 L959.9 465.5 L960.0 479.2 L960.0 481.1 L960.1 463.8 L960.2 470.6 L960.2 473.4 L960.3 467.7 L960.3 457.8 L960.4 478.0 L960.4 481.2 L960.5 471.5 L960.6 473.0 L960.6 468.5 L960.7 480.2 L960.7 485.4 L960.8 476.5 L960.9 482.0 L960.9 479.7 L961.0 487.9 L961.0 474.7 L961.1 475.2 L961.1 489.1 L961.2 485.0 L961.3 486.7 L961.3 487.1 L961.4 481.1 L961.4 477.4 L961.5 475.8 L961.5 478.1 L961.6 487.8 L961.7 478.1 L961.7 489.5 L961.8 490.2 L961.8 487.6 L961.9 489.8 L961.9 480.5 L962.0 481.1 L962.0 489.0 L962.1 490.3 L962.2 500.4 L962.2 485.0 L962.3 497.5 L962.3 500.9 L962.4 507.2 L962.4 489.7 L962.5 507.8 L962.5 485.5 L962.6 502.5 L962.7 494.1 L962.7 498.4 L962.8 503.5 L962.8 497.9 L962.9 506.6 L962.9 500.4 L963.0 500.6 L963.0 503.3 L963.1 496.5 L963.1 503.2 L963.2 501.6 L963.3 510.9 L963.3 498.5 L963.4 503.0 L963.4 529.0 L963.5 511.0 L963.5 498.9 L963.6 524.6 L963.6 513.2 L963.7 512.6 L963.7 519.6 L963.8 530.1 L963.8 516.2 L963.9 515.7 L964.0 516.4 L964.0 509.7 L964.1 535.3 L964.1 512.4 L964.2 503.3 L964.2 524.6 L964.3 516.2 L964.3 514.9 L964.4 512.4 L964.4 534.3 L964.5 530.6 L964.5 522.7 L964.6 525.0 L964.6 523.3 L964.7 513.3 L964.7 515.4 L964.8 533.7 L964.8 537.0 L964.9 532.7 L965.0 539.5 L965.0 519.5 L965.1 530.4 L965.1 526.9 L965.2 533.6 L965.2 523.1 L965.3 521.3 L965.3 531.4 L965.4 547.7 L965.4 529.3 L965.5 547.9 L965.5 533.3 L965.6 533.4 L965.6 527.1 L965.7 522.0 L965.7 535.2 L965.8 538.2 L965.8 530.6 L965.9 552.3 L965.9 534.9 L966.0 538.2 L966.0 547.4 L966.1 548.5 L966.1 538.2 L966.2 540.3 L966.2 550.9 L966.3 540.4 L966.3 541.6 L966.4 539.5 L966.5 542.2 L966.5 540.6 L966.6 543.4 L966.7 545.8 L966.7 545.9 L966.8 560.4 L966.8 555.9 L966.9 552.5 L967.0 555.3 L967.0 551.6 L967.1 559.5 L967.1 547.1 L967.2 556.9 L967.3 560.6 L967.3 556.5 L967.4 560.9 L967.5 555.9 L967.5 560.1 L967.6 563.1 L967.6 559.7 L967.7 558.6 L967.8 560.9 L967.8 562.7 L967.9 561.2 L967.9 567.3 L968.0 566.3 L968.1 564.4 L968.1 564.5 L968.2 567.8" fill="none" stroke="#000" stroke-width="1.15" stroke-linejoin="miter" stroke-miterlimit="4"/>
<path d="M691.8 700.1 L718.6 695.5 L733.3 695.5 L743.9 680.6 L752.4 680.3 L758.7 702.3 L764.6 697.2 L770.0 704.8 L774.7 693.6 L781.2 694.1 L785.2 690.2 L788.3 698.9 L790.8 681.1 L793.3 702.3 L795.9 682.3 L798.4 680.6 L804.3 689.9 L806.0 680.1 L808.1 699.2 L809.4 699.2 L811.1 688.2 L812.3 692.4 L813.6 687.4 L814.8 692.4 L816.2 685.7 L817.4 690.8 L818.7 689.1 L820.4 696.7 L821.8 677.2 L823.5 680.6 L824.6 678.9 L826.3 682.3 L827.5 680.6 L828.9 688.2 L830.2 682.3 L831.4 692.4 L833.1 678.1 L834.3 689.9 L835.3 695.8 L837.0 670.5 L839.0 695.8 L841.6 676.4 L843.3 689.9 L844.9 694.1 L846.6 685.7 L850.0 700.0 L853.9 671.3 L854.8 680.4 L855.3 691.3 L855.7 694.4 L856.2 695.3 L856.7 671.0 L857.1 695.0 L857.6 679.0 L858.0 679.5 L858.5 674.5 L858.9 684.2 L859.4 686.8 L859.8 678.0 L860.2 673.6 L860.6 673.3 L861.0 684.6 L861.5 678.9 L861.9 705.2 L862.3 694.5 L862.7 677.2 L863.1 700.1 L863.4 686.1 L863.8 688.9 L864.2 705.3 L864.6 697.1 L865.0 691.8 L865.3 701.0 L865.7 696.5 L866.1 688.4 L866.4 681.6 L866.8 681.8 L867.1 683.7 L867.5 700.9 L867.8 690.7 L868.2 706.5 L868.5 691.7 L868.8 677.9 L869.2 678.7 L869.5 678.3 L869.8 692.3 L870.2 704.7 L870.5 688.4 L870.8 698.5 L871.1 689.5 L871.4 691.8 L871.7 698.5 L872.0 680.6 L872.3 702.2 L872.7 710.2 L873.0 694.9 L873.3 695.4 L873.6 705.8 L873.8 694.6 L874.1 699.9 L874.4 709.9 L874.7 701.5 L875.0 706.7 L875.3 712.4 L875.6 690.2 L875.8 683.4 L876.1 692.1 L876.4 687.2 L876.7 700.8 L876.9 696.6 L877.2 694.0 L877.5 702.1 L877.7 683.3 L878.0 695.3 L878.3 693.0 L878.5 692.0 L878.8 695.6 L879.0 698.2 L879.3 692.0 L879.5 696.7 L879.8 698.4 L880.0 697.9 L880.3 694.9 L880.5 706.5 L880.8 694.2 L881.0 693.9 L881.3 705.9 L881.5 692.4 L881.7 685.8 L882.0 691.1 L882.2 693.3 L882.5 703.7 L882.7 692.0 L882.9 698.0 L883.1 690.6 L883.4 696.9 L883.6 693.7 L883.8 687.1 L884.0 694.8 L884.3 702.8 L884.5 702.6 L884.7 704.1 L884.9 702.8 L885.1 698.2 L885.4 699.7 L885.6 705.7 L885.8 699.7 L886.0 703.6 L886.2 702.0 L886.4 700.3 L886.6 697.1 L886.8 708.5 L887.1 711.2 L887.3 713.2 L887.5 708.4 L887.7 699.8 L887.9 705.0 L888.1 717.6 L888.3 698.0 L888.5 700.0 L888.7 693.4 L888.9 688.8 L889.1 703.2 L889.3 699.6 L889.4 695.5 L889.6 718.7 L889.8 709.6 L890.0 699.7 L890.2 690.2 L890.4 689.1 L890.6 707.7 L890.8 697.4 L891.0 695.3 L891.1 695.4 L891.3 693.0 L891.5 709.7 L891.7 696.1 L891.9 712.4 L892.1 705.0 L892.2 705.5 L892.4 698.3 L892.6 706.4 L892.8 701.0 L893.0 702.6 L893.1 702.8 L893.3 700.9 L893.5 717.2 L893.7 718.4 L893.8 712.2 L894.0 705.5 L894.2 696.6 L894.3 707.1 L894.5 709.6 L894.7 708.3 L894.8 717.4 L895.0 702.6 L895.2 713.4 L895.3 701.6 L895.5 712.9 L895.7 699.3 L895.8 696.6 L896.0 702.9 L896.2 700.4 L896.3 711.2 L896.5 704.4 L896.6 707.3 L896.8 708.2 L897.0 698.6 L897.1 711.1 L897.3 698.0 L897.4 699.4 L897.6 706.6 L897.7 696.0 L897.9 717.1 L898.1 711.4 L898.2 700.8 L898.4 701.1 L898.5 708.1 L898.7 700.4 L898.8 705.3 L899.0 698.2 L899.1 703.2 L899.3 699.5 L899.4 708.0 L899.6 710.2 L899.7 710.3 L899.9 713.2 L900.0 700.9 L900.1 723.1 L900.3 718.7 L900.4 707.1 L900.6 708.3 L900.7 700.3 L900.9 695.0 L901.0 707.3 L901.2 703.2 L901.3 706.6 L901.4 707.9 L901.6 705.7 L901.7 702.2 L901.9 699.9 L902.0 709.3 L902.1 710.6 L902.3 699.8 L902.4 700.7 L902.5 711.7 L902.7 699.9 L902.8 699.3 L902.9 699.3 L903.1 713.1 L903.2 698.4 L903.4 709.0 L903.5 716.5 L903.6 702.7 L903.7 726.5 L903.9 710.4 L904.0 709.1 L904.1 710.8 L904.3 702.1 L904.4 706.2 L904.5 704.4 L904.7 705.3 L904.8 710.0 L904.9 704.2 L905.0 714.2 L905.2 706.3 L905.3 708.3 L905.4 702.3 L905.6 718.9 L905.7 714.2 L905.8 713.6 L905.9 699.6 L906.1 719.3 L906.2 710.3 L906.3 708.1 L906.4 711.2 L906.5 705.4 L906.7 715.0 L906.8 700.5 L906.9 712.6 L907.0 706.7 L907.2 715.3 L907.3 697.4 L907.4 711.2 L907.5 722.8 L907.6 705.3 L907.8 699.0 L907.9 706.0 L908.0 714.2 L908.1 713.4 L908.2 714.0 L908.3 705.8 L908.5 708.9 L908.6 728.8 L908.7 698.8 L908.8 708.7 L908.9 723.9 L909.0 711.3 L909.2 702.0 L909.3 712.4 L909.4 710.8 L909.5 713.9 L909.6 721.6 L909.7 704.2 L909.8 722.7 L909.9 711.4 L910.1 715.5 L910.2 711.9 L910.3 723.5 L910.4 712.5 L910.5 713.4 L910.6 724.5 L910.7 714.1 L910.8 702.5 L910.9 705.5 L911.0 715.3 L911.2 703.5 L911.3 709.8 L911.4 709.4 L911.5 705.1 L911.6 715.0 L911.7 718.2 L911.8 707.7 L911.9 716.3 L912.0 708.0 L912.1 723.6 L912.2 705.2 L912.3 714.2 L912.4 718.3 L912.5 703.4 L912.6 710.4 L912.8 708.6 L912.9 717.5 L913.0 716.8 L913.1 710.0 L913.2 719.6 L913.3 708.0 L913.4 704.0 L913.5 702.6 L913.6 708.9 L913.7 706.4 L913.8 716.3 L913.9 711.2 L914.0 709.2 L914.1 717.9 L914.2 714.9 L914.3 715.3 L914.4 713.2 L914.5 717.0 L914.6 708.9 L914.7 717.8 L914.8 717.2 L914.9 713.4 L915.0 719.2 L915.1 707.0 L915.2 717.6 L915.3 711.3 L915.4 715.7 L915.5 711.2 L915.6 716.0 L915.6 707.8 L915.7 712.6 L915.8 717.4 L915.9 716.9 L916.0 711.9 L916.1 726.0 L916.2 712.0 L916.3 717.5 L916.4 716.2 L916.5 714.3 L916.6 720.4 L916.7 707.9 L916.8 701.5 L916.9 706.6 L917.0 718.3 L917.1 725.9 L917.2 708.3 L917.3 726.8 L917.3 702.8 L917.4 725.7 L917.5 720.3 L917.6 710.2 L917.7 719.0 L917.8 723.8 L917.9 721.6 L918.0 710.0 L918.1 714.1 L918.2 709.8 L918.3 723.3 L918.3 711.7 L918.4 706.5 L918.5 704.6 L918.6 719.5 L918.7 721.5 L918.8 712.6 L918.9 709.4 L919.0 704.3 L919.1 710.9 L919.1 706.7 L919.2 710.6 L919.3 720.7 L919.4 714.3 L919.5 706.3 L919.6 710.0 L919.7 723.5 L919.7 718.8 L919.8 720.7 L919.9 727.0 L920.0 714.4 L920.1 727.8 L920.2 719.7 L920.3 713.1 L920.3 723.2 L920.4 719.3 L920.5 705.5 L920.6 724.2 L920.7 712.1 L920.8 715.4 L920.9 715.6 L920.9 727.3 L921.0 716.9 L921.1 715.1 L921.2 730.2 L921.3 721.1 L921.4 717.8 L921.4 719.1 L921.5 728.1 L921.6 716.1 L921.7 721.2 L921.8 719.1 L921.8 722.4 L921.9 720.5 L922.0 714.7 L922.1 713.4 L922.2 716.6 L922.2 713.8 L922.3 728.9 L922.4 721.9 L922.5 709.0 L922.6 710.3 L922.7 708.0 L922.7 709.3 L922.8 716.3 L922.9 714.0 L923.0 712.8 L923.0 722.2 L923.1 716.7 L923.2 729.4 L923.3 725.9 L923.4 722.9 L923.4 714.0 L923.5 728.4 L923.6 725.2 L923.7 712.1 L923.8 728.6 L923.8 706.9 L923.9 715.3 L924.0 712.7 L924.1 714.1 L924.1 715.0 L924.2 736.9 L924.3 718.3 L924.4 711.1 L924.4 723.8 L924.5 723.7 L924.6 719.6 L924.7 717.5 L924.7 720.7 L924.8 712.6 L924.9 729.3 L925.0 717.0 L925.0 725.3 L925.1 721.6 L925.2 720.6 L925.3 709.1 L925.3 728.0 L925.4 707.7 L925.5 719.2 L925.6 717.2 L925.6 725.3 L925.7 715.6 L925.8 712.5 L925.9 711.0 L925.9 713.3 L926.0 708.5 L926.1 714.7 L926.2 717.9 L926.2 721.7 L926.3 725.5 L926.4 715.0 L926.4 719.2 L926.5 738.0 L926.6 713.6 L926.7 718.8 L926.7 724.4 L926.8 718.9 L926.9 718.7 L926.9 715.8 L927.0 718.6 L927.1 713.0 L927.2 724.2 L927.2 729.3 L927.3 715.9 L927.4 714.7 L927.4 725.2 L927.5 704.8 L927.6 721.0 L927.7 730.3 L927.7 725.7 L927.8 722.2 L927.9 726.1 L927.9 722.8 L928.0 713.3 L928.1 727.2 L928.1 724.5 L928.2 719.6 L928.3 722.3 L928.3 720.7 L928.4 717.8 L928.5 711.9 L928.5 717.3 L928.6 717.7 L928.7 716.3 L928.8 715.5 L928.8 722.1 L928.9 714.3 L929.0 718.7 L929.0 736.0 L929.1 722.0 L929.2 713.1 L929.2 728.9 L929.3 714.5 L929.4 725.8 L929.4 727.4 L929.5 714.5 L929.6 708.0 L929.6 714.5 L929.7 716.7 L929.8 731.5 L929.8 726.4 L929.9 723.9 L930.0 720.7 L930.0 730.2 L930.1 726.6 L930.2 716.9 L930.2 722.2 L930.3 723.9 L930.3 721.0 L930.4 720.8 L930.5 723.1 L930.5 722.2 L930.6 722.0 L930.7 711.3 L930.7 722.4 L930.8 724.4 L930.9 728.5 L930.9 713.8 L931.0 728.6 L931.1 726.2 L931.1 717.1 L931.2 717.2 L931.2 712.2 L931.3 710.5 L931.4 712.4 L931.4 718.8 L931.5 711.7 L931.6 734.4 L931.6 726.5 L931.7 717.2 L931.8 719.7 L931.8 715.7 L931.9 733.2 L931.9 718.4 L932.0 734.9 L932.1 724.6 L932.1 738.6 L932.2 717.1 L932.2 716.6 L932.3 728.0 L932.4 715.0 L932.4 719.6 L932.5 730.2 L932.6 719.5 L932.6 725.4 L932.7 718.0 L932.7 714.0 L932.8 719.6 L932.9 715.1 L932.9 725.0 L933.0 710.5 L933.0 724.5 L933.1 708.1 L933.2 726.0 L933.2 724.2 L933.3 733.4 L933.3 726.0 L933.4 725.8 L933.5 727.1 L933.5 714.3 L933.6 712.4 L933.6 709.5 L933.7 716.3 L933.8 724.9 L933.8 714.5 L933.9 717.4 L933.9 731.1 L934.0 713.6 L934.1 712.1 L934.1 724.2 L934.2 723.5 L934.2 723.4 L934.3 729.2 L934.4 716.2 L934.4 726.0 L934.5 718.0 L934.5 710.2 L934.6 719.6 L934.6 725.6 L934.7 715.5 L934.8 728.0 L934.8 715.5 L934.9 711.0 L934.9 739.5 L935.0 711.2 L935.0 717.1 L935.1 721.9 L935.2 735.6 L935.2 726.0 L935.3 717.5 L935.3 728.3 L935.4 718.3 L935.4 717.4 L935.5 724.6 L935.6 717.4 L935.6 737.5 L935.7 720.4 L935.7 719.1 L935.8 725.4 L935.8 732.9 L935.9 723.8 L936.0 717.2 L936.0 736.0 L936.1 740.5 L936.1 723.1 L936.2 719.5 L936.2 730.4 L936.3 736.2 L936.3 730.1 L936.4 728.4 L936.5 714.9 L936.5 725.8 L936.6 717.0 L936.6 716.6 L936.7 729.1 L936.7 734.8 L936.8 723.5 L936.8 716.0 L936.9 723.9 L936.9 724.5 L937.0 719.8 L937.1 724.6 L937.1 721.7 L937.2 718.7 L937.2 718.8 L937.3 728.6 L937.3 716.1 L937.4 715.8 L937.4 721.9 L937.5 719.5 L937.5 730.5 L937.6 717.6 L937.7 723.8 L937.7 722.7 L937.8 731.8 L937.8 730.9 L937.9 733.2 L937.9 729.7 L938.0 730.0 L938.0 718.8 L938.1 722.0 L938.1 732.7 L938.2 723.0 L938.2 724.3 L938.3 727.1 L938.3 732.3 L938.4 728.0 L938.4 711.4 L938.5 726.8 L938.6 725.4 L938.6 729.5 L938.7 724.1 L938.7 716.2 L938.8 721.6 L938.8 724.9 L938.9 723.3 L938.9 712.6 L939.0 725.5 L939.0 715.9 L939.1 727.1 L939.1 716.6 L939.2 729.8 L939.2 727.7 L939.3 735.4 L939.3 717.1 L939.4 742.7 L939.4 721.5 L939.5 723.9 L939.5 716.7 L939.6 735.7 L939.6 714.0 L939.7 718.9 L939.7 720.4 L939.8 723.2 L939.8 716.9 L939.9 721.0 L939.9 732.7 L940.0 718.7 L940.0 722.7 L940.1 723.8 L940.1 721.1 L940.2 730.0 L940.3 723.5 L940.4 720.5 L940.5 718.6 L940.6 721.4 L940.7 717.8 L940.8 711.3 L940.9 737.1 L941.0 718.0 L941.1 720.2 L941.2 715.0 L941.3 734.6 L941.4 711.3 L941.5 717.4 L941.6 724.9 L941.7 729.8 L941.8 731.1 L941.9 716.5 L941.9 727.9 L942.0 715.4 L942.1 735.9 L942.2 715.3 L942.3 714.6 L942.4 724.9 L942.5 721.9 L942.6 714.5 L942.7 720.2 L942.8 721.5 L942.9 723.2 L943.0 717.9 L943.1 725.6 L943.2 727.8 L943.3 731.4 L943.4 717.3 L943.4 726.0 L943.5 728.0 L943.6 709.5 L943.7 720.3 L943.8 721.5 L943.9 733.3 L944.0 725.3 L944.1 723.0 L944.2 709.7 L944.3 725.2 L944.4 723.6 L944.4 722.9 L944.5 731.8 L944.6 727.3 L944.7 727.2 L944.8 722.9 L944.9 715.3 L945.0 721.5 L945.1 709.2 L945.1 717.3 L945.2 723.3 L945.3 732.9 L945.4 729.0 L945.5 708.2 L945.6 735.5 L945.7 723.1 L945.8 719.2 L945.8 726.9 L945.9 720.3 L946.0 720.3 L946.1 720.7 L946.2 736.8 L946.3 721.7 L946.4 708.0 L946.4 719.1 L946.5 719.5 L946.6 723.4 L946.7 717.2 L946.8 727.0 L946.9 715.1 L946.9 725.1 L947.0 721.3 L947.1 722.6 L947.2 719.4 L947.3 726.2 L947.4 728.3 L947.4 722.2 L947.5 738.9 L947.6 721.5 L947.7 714.2 L947.8 721.9 L947.9 724.2 L947.9 725.1 L948.0 724.6 L948.1 725.0 L948.2 717.9 L948.3 724.0 L948.3 725.6 L948.4 728.5 L948.5 724.1 L948.6 721.9 L948.7 726.7 L948.7 719.8 L948.8 726.3 L948.9 716.1 L949.0 725.8 L949.1 730.1 L949.1 726.5 L949.2 729.6 L949.3 721.0 L949.4 736.5 L949.5 721.4 L949.5 719.6 L949.6 719.4 L949.7 715.6 L949.8 723.4 L949.8 714.6 L949.9 717.3 L950.0 718.8 L950.1 736.9 L950.1 717.6 L950.2 718.7 L950.3 721.2 L950.4 715.5 L950.5 722.8 L950.5 721.7 L950.6 726.4 L950.7 713.8 L950.8 724.0 L950.8 712.3 L950.9 725.0 L951.0 725.7 L951.1 714.4 L951.1 722.9 L951.2 729.7 L951.3 707.0 L951.4 734.7 L951.4 729.8 L951.5 720.7 L951.6 723.9 L951.7 719.5 L951.7 717.1 L951.8 721.8 L951.9 717.7 L951.9 723.2 L952.0 716.5 L952.1 712.7 L952.2 716.8 L952.2 719.1 L952.3 713.3 L952.4 715.1 L952.5 715.2 L952.5 718.1 L952.6 727.8 L952.7 719.6 L952.7 724.3 L952.8 714.6 L952.9 727.6 L953.0 713.8 L953.0 716.4 L953.1 725.2 L953.2 734.2 L953.2 725.5 L953.3 717.0 L953.4 714.4 L953.5 728.4 L953.5 712.1 L953.6 720.4 L953.7 719.0 L953.7 733.6 L953.8 721.7 L953.9 722.1 L953.9 732.2 L954.0 717.7 L954.1 717.6 L954.1 729.3 L954.2 721.1 L954.3 719.4 L954.4 717.1 L954.4 712.7 L954.5 727.7 L954.6 709.8 L954.6 719.1 L954.7 720.1 L954.8 716.6 L954.8 713.5 L954.9 716.0 L955.0 715.6 L955.0 722.3 L955.1 714.3 L955.2 724.9 L955.2 708.1 L955.3 708.6 L955.4 711.5 L955.4 721.0 L955.5 709.5 L955.6 723.8 L955.6 715.6 L955.7 714.7 L955.8 713.3 L955.8 717.2 L955.9 711.9 L956.0 706.1 L956.0 718.7 L956.1 709.4 L956.2 721.1 L956.2 719.0 L956.3 721.4 L956.4 712.2 L956.4 715.7 L956.5 707.2 L956.6 721.2 L956.6 715.1 L956.7 719.4 L956.7 719.2 L956.8 711.0 L956.9 704.1 L956.9 716.8 L957.0 705.8 L957.1 719.3 L957.1 722.1 L957.2 716.3 L957.3 714.2 L957.3 705.4 L957.4 720.7 L957.4 719.3 L957.5 713.4 L957.6 717.3 L957.6 711.4 L957.7 711.7 L957.8 716.1 L957.8 713.8 L957.9 708.1 L957.9 722.3 L958.0 708.3 L958.1 707.4 L958.1 727.3 L958.2 725.9 L958.3 721.5 L958.3 726.1 L958.4 724.9 L958.4 717.2 L958.5 722.1 L958.6 705.1 L958.6 721.8 L958.7 714.4 L958.7 714.0 L958.8 706.3 L958.9 708.8 L958.9 720.2 L959.0 710.2 L959.1 716.5 L959.1 715.2 L959.2 708.3 L959.2 727.5 L959.3 714.1 L959.4 707.0 L959.4 723.0 L959.5 709.7 L959.5 703.9 L959.6 703.5 L959.7 708.6 L959.7 707.9 L959.8 712.2 L959.8 705.1 L959.9 702.8 L960.0 698.3 L960.0 700.7 L960.1 700.9 L960.1 709.1 L960.2 732.2 L960.2 724.8 L960.3 713.9 L960.4 710.0 L960.4 717.6 L960.5 716.2 L960.5 726.6 L960.6 719.7 L960.7 720.1 L960.7 697.4 L960.8 723.1 L960.8 713.1 L960.9 706.4 L960.9 710.0 L961.0 719.6 L961.1 718.2 L961.1 717.7 L961.2 706.9 L961.2 723.1 L961.3 715.9 L961.3 707.2 L961.4 722.0 L961.5 715.6 L961.5 710.9 L961.6 723.7 L961.6 716.6 L961.7 719.6 L961.7 719.7 L961.8 719.2 L961.9 721.8 L961.9 703.2 L962.0 724.9 L962.0 716.7 L962.1 725.8 L962.1 718.8 L962.2 724.6 L962.2 716.0 L962.3 708.7 L962.4 726.5 L962.4 716.1 L962.5 703.3 L962.5 723.6 L962.6 711.2 L962.6 712.5 L962.7 719.1 L962.7 718.4 L962.8 713.9 L962.8 711.4 L962.9 734.4 L963.0 708.7 L963.0 720.0 L963.1 715.5 L963.1 721.4 L963.2 709.3 L963.2 715.2 L963.3 709.9 L963.3 718.7 L963.4 706.4 L963.4 736.7 L963.5 708.6 L963.6 711.0 L963.6 722.4 L963.7 724.7 L963.7 719.2 L963.8 725.7 L963.8 720.8 L963.9 725.3 L963.9 719.1 L964.0 715.1 L964.0 716.8 L964.1 714.0 L964.1 717.2 L964.2 717.0 L964.2 723.2 L964.3 722.3 L964.4 708.6 L964.4 721.6 L964.5 721.7 L964.5 712.5 L964.6 713.4 L964.6 713.3 L964.7 708.3 L964.7 719.2 L964.8 719.6 L964.8 717.7 L964.9 706.8 L964.9 715.6 L965.0 721.4 L965.0 723.7 L965.1 725.8 L965.1 713.7 L965.2 714.1 L965.2 719.4 L965.3 736.5 L965.3 723.0 L965.4 716.8 L965.4 719.0 L965.5 726.1 L965.5 723.2 L965.6 724.8 L965.6 717.0 L965.7 720.3 L965.7 716.4 L965.8 725.8 L965.8 729.5 L965.9 725.7 L965.9 714.6 L966.0 718.2 L966.0 736.1 L966.1 728.0 L966.1 720.2 L966.2 714.7 L966.3 729.3 L966.3 711.3 L966.4 723.9 L966.5 719.1 L966.6 743.0 L966.6 735.8 L966.7 713.3 L966.8 721.3 L966.9 711.2 L966.9 723.5 L967.0 730.3 L967.1 728.0 L967.2 730.3 L967.2 726.4 L967.3 732.9 L967.4 715.7 L967.5 719.9 L967.5 726.0 L967.6 743.2 L967.7 723.6 L967.7 722.8 L967.8 731.7 L967.9 728.1 L968.0 728.7 L968.0 727.9 L968.1 727.7 L968.2 729.7 L968.2 736.7 L968.3 730.1 L968.4 738.1 L968.5 724.9 L968.5 732.9 L968.6 730.4 L968.7 724.1 L968.7 733.9 L968.8 734.7 L968.9 729.3 L968.9 729.6 L969.0 738.7 L969.1 725.0 L969.2 740.5 L969.2 736.7 L969.3 737.7 L969.4 735.2 L969.4 726.8 L969.5 728.1 L969.6 747.5 L969.6 737.9 L969.7 733.4 L969.8 735.9 L969.8 741.0 L969.9 745.1 L970.0 740.1 L970.0 743.2 L970.1 740.2 L970.2 733.6 L970.2 739.8 L970.3 741.6 L970.4 743.8 L970.4 749.1 L970.5 744.4 L970.6 732.3 L970.6 750.3 L970.7 730.0 L970.8 754.2 L970.8 735.4 L970.9 741.5 L971.0 734.8 L971.0 745.4 L971.1 745.4 L971.2 747.7 L971.2 736.1 L971.3 735.0 L971.4 753.4 L971.4 741.4 L971.5 745.1 L971.6 749.4 L971.6 734.2 L971.7 743.2 L971.8 740.7 L971.8 742.8 L971.9 736.0 L972.0 738.4 L972.0 742.0 L972.1 754.6 L972.2 751.0 L972.2 748.9 L972.3 751.5 L972.3 745.9 L972.4 750.2 L972.5 746.7 L972.5 742.5 L972.6 749.6 L972.7 750.3 L972.7 746.1 L972.8 745.8 L972.8 750.5 L972.9 752.3 L973.0 747.5 L973.0 750.3 L973.1 751.3 L973.2 748.7 L973.2 750.3 L973.3 744.0 L973.3 760.8 L973.4 739.7 L973.5 757.3 L973.5 743.9 L973.6 740.5 L973.7 766.9 L973.7 755.5 L973.8 762.5 L973.8 753.4 L973.9 744.8 L974.0 744.5 L974.0 757.2 L974.1 749.2 L974.1 747.8 L974.2 743.4 L974.3 756.2 L974.3 754.1 L974.4 747.9 L974.4 752.9 L974.5 756.6 L974.6 757.5 L974.6 755.1 L974.7 751.8 L974.7 744.2 L974.8 766.2 L974.9 746.6 L974.9 755.5 L975.0 756.2 L975.0 744.5 L975.1 753.2 L975.2 749.6 L975.2 757.3 L975.3 756.5 L975.3 751.9 L975.4 761.1 L975.5 772.3 L975.5 755.1 L975.6 766.7 L975.6 760.2 L975.7 758.3 L975.8 761.7 L975.8 756.6 L975.9 752.6 L975.9 765.7 L976.0 749.7 L976.0 760.2 L976.1 755.5 L976.2 764.0 L976.2 749.5 L976.3 763.0 L976.3 757.9 L976.4 753.4 L976.4 760.7 L976.5 763.7 L976.6 759.8 L976.6 761.1 L976.7 753.7 L976.7 746.4 L976.8 765.0 L976.8 764.6 L976.9 755.1 L977.0 759.4 L977.0 760.7 L977.1 754.5 L977.1 761.3 L977.2 755.0 L977.2 751.9 L977.3 755.5 L977.3 756.0 L977.4 749.5 L977.5 760.6 L977.5 759.3 L977.6 755.6 L977.6 770.1 L977.7 759.1 L977.7 765.3 L977.8 763.0 L977.8 760.7 L977.9 765.8 L978.0 757.7 L978.0 766.6 L978.1 768.0 L978.1 762.4 L978.2 772.3 L978.2 764.2 L978.3 759.0 L978.3 767.2 L978.4 765.8 L978.4 755.5 L978.5 753.1 L978.6 765.6 L978.6 761.4 L978.7 762.8 L978.7 765.4 L978.8 763.6 L978.8 771.0 L978.9 753.9 L978.9 763.3 L979.0 775.5 L979.0 760.5 L979.1 764.1 L979.1 763.2 L979.2 771.9 L979.2 764.4 L979.3 767.9 L979.4 771.6 L979.4 771.7 L979.5 761.3 L979.5 766.7 L979.6 763.1 L979.6 761.6 L979.7 763.6 L979.7 758.7 L979.8 764.7 L979.8 772.6 L979.9 779.2 L979.9 772.4 L980.0 773.0 L980.0 768.9 L980.1 774.7 L980.1 768.2 L980.2 775.1 L980.2 774.7 L980.3 764.8 L980.3 776.4 L980.4 771.4 L980.4 773.5 L980.5 768.4 L980.6 764.3 L980.6 768.8 L980.7 776.0 L980.7 771.4 L980.8 766.9 L980.8 773.0 L980.9 769.1 L980.9 770.4 L981.0 776.6 L981.0 765.6 L981.1 773.4 L981.1 780.7 L981.2 779.8 L981.2 770.3 L981.3 778.7 L981.3 779.3 L981.4 770.8 L981.4 770.8 L981.5 773.5 L981.5 775.6 L981.6 790.7 L981.7 781.0 L981.7 780.6 L981.8 773.9 L981.9 785.4 L981.9 775.2 L982.0 780.0 L982.1 771.9 L982.1 782.5 L982.2 773.7 L982.3 773.4 L982.3 781.1 L982.4 780.5 L982.5 777.0 L982.5 782.0 L982.6 780.3 L982.7 779.1 L982.7 777.9 L982.8 772.4 L982.9 772.4 L982.9 782.4 L983.0 776.7 L983.0 786.0 L983.1 781.7 L983.2 781.6 L983.2 785.7 L983.3 788.8 L983.4 790.8 L983.4 784.1 L983.5 787.8 L983.5 787.4 L983.6 782.3 L983.7 784.0 L983.7 788.6 L983.8 802.2 L983.9 798.2 L983.9 786.1 L984.0 793.6 L984.1 787.8 L984.1 788.2 L984.2 785.3 L984.2 795.2 L984.3 797.3 L984.4 793.3 L984.4 791.2 L984.5 795.2 L984.5 798.2 L984.6 799.5 L984.7 798.2 L984.7 799.2 L984.8 797.0 L984.9 791.5 L984.9 786.9 L985.0 798.5 L985.0 798.1 L985.1 805.5 L985.2 792.7 L985.2 796.0 L985.3 804.2 L985.3 803.3 L985.4 818.5 L985.5 806.5 L985.5 802.9 L985.6 806.7 L985.6 807.0 L985.7 795.2 L985.8 802.5 L985.8 810.2 L985.9 799.1 L985.9 807.4 L986.0 808.1 L986.0 805.2 L986.1 811.3 L986.2 800.5 L986.2 816.8 L986.3 811.3 L986.3 823.1 L986.4 804.3 L986.5 806.2 L986.5 808.9 L986.6 817.9 L986.6 806.7 L986.7 816.2 L986.7 824.2 L986.8 811.7 L986.9 813.7 L986.9 819.6 L987.0 822.7 L987.0 814.0 L987.1 831.9 L987.2 824.4 L987.2 823.6 L987.3 818.9 L987.3 815.8 L987.4 815.7 L987.4 821.8 L987.5 835.2 L987.6 843.5 L987.6 825.2 L987.7 830.4 L987.7 829.8 L987.8 815.5 L987.8 822.2 L987.9 825.2 L987.9 831.4 L988.0 834.1 L988.1 826.8 L988.1 853.3 L988.2 823.8 L988.2 829.0 L988.3 846.0 L988.3 854.0 L988.4 838.1 L988.4 835.8 L988.5 839.4 L988.6 831.4 L988.6 843.3 L988.7 848.8 L988.7 852.4 L988.8 833.8 L988.8 845.3 L988.9 843.0 L988.9 834.2 L989.0 856.1 L989.0 849.0 L989.1 836.8 L989.2 841.0 L989.2 858.9 L989.3 843.0 L989.3 851.1 L989.4 853.1 L989.4 846.1 L989.5 842.8 L989.5 834.4 L989.6 848.6 L989.6 847.9 L989.7 844.9 L989.8 849.4 L989.8 845.6 L989.9 845.0 L989.9 857.5 L990.0 848.7 L990.0 858.0 L990.1 848.7 L990.1 859.8 L990.2 871.2 L990.2 857.6 L990.3 859.6 L990.3 851.2 L990.4 864.1 L990.4 860.0 L990.5 858.7 L990.5 854.4 L990.6 863.9 L990.6 865.9 L990.7 858.4 L990.8 874.4 L990.8 872.2 L990.9 859.6 L990.9 872.4 L991.0 863.3 L991.0 859.9 L991.1 874.9 L991.1 871.5 L991.2 866.1 L991.2 862.6 L991.3 868.3 L991.3 866.5 L991.4 867.0 L991.4 874.6 L991.5 865.2 L991.5 891.0 L991.6 872.2 L991.6 864.6 L991.7 880.9 L991.7 882.3 L991.8 880.3 L991.8 873.3 L991.9 881.0 L991.9 874.5 L992.0 880.4 L992.0 889.9 L992.1 890.1 L992.1 881.9 L992.2 881.2 L992.2 879.8 L992.3 883.7 L992.4 874.0 L992.4 877.0 L992.5 880.1 L992.5 881.6 L992.6 896.1 L992.7 882.5 L992.7 884.8 L992.8 887.0 L992.9 892.0 L992.9 888.2 L993.0 888.2 L993.0 890.0 L993.1 882.0 L993.2 895.7 L993.2 891.1 L993.3 890.6 L993.3 895.9 L993.4 893.0 L993.5 893.4 L993.5 893.2 L993.6 895.0 L993.6 898.2 L993.7 899.0 L993.8 899.7 L993.8 899.0 L993.9 900.8 L993.9 901.8 L994.0 905.5 L994.1 899.8 L994.1 899.4 L994.2 901.3 L994.2 901.5 L994.3 901.6 L994.4 902.9 L994.4 903.0 L994.5 903.2" fill="none" stroke="#000" stroke-width="1.15" stroke-linejoin="miter" stroke-miterlimit="4"/>
<path d="M956.5 449.0 L957.3 453.0 L960.2 472.0 L963.0 506.7 L966.0 544.0 L968.2 567.6" fill="none" stroke="#000" stroke-width="2.6" stroke-linejoin="round" stroke-linecap="round" stroke-miterlimit="4"/>
<path d="M981.5 774.0 L983.0 784.0 L985.9 810.0 L988.7 841.0 L991.6 875.0 L994.4 903.6" fill="none" stroke="#000" stroke-width="2.6" stroke-linejoin="round" stroke-linecap="round" stroke-miterlimit="4"/>
<path d="M968.2 567.6 L968.6 569.2 L969.5 570.9 L971.3 572.4 L975.0 575.3 L982.6 581.2 L990.1 586.5 L997.6 591.0 L1005.1 594.4 L1009.0 595.6 L1011.9 596.0" fill="none" stroke="#000" stroke-width="1.55" stroke-linejoin="round" stroke-linecap="round" stroke-miterlimit="4"/>
<path d="M994.4 903.6 L994.9 905.2 L996.0 906.8 L1000.2 911.2 L1009.0 920.0 L1017.7 927.0 L1026.5 931.4 L1032.0 933.3 L1035.3 934.0 L1038.0 934.1" fill="none" stroke="#000" stroke-width="1.55" stroke-linejoin="round" stroke-linecap="round" stroke-miterlimit="4"/>
<path d="M384.5 426.8V288.8M384.5 795.4V658.3M864.7 369.5V352.0M890.7 382.4V370.0M905.8 406.1V370.0M916.6 405.0V277.8M942.6 414.6V319.4M947.0 429.0V385.0M957.9 456.1V321.0M968.1 564.5V446.4M890.5 707.7V643.0M916.6 720.4V621.3M931.7 717.2V690.7M942.6 714.5V688.5M957.8 713.8V673.3M977.0 760.7V656.8M983.8 802.2V685.5M989.6 848.6V757.8M994.5 903.2V841.8" fill="none" stroke="#000" stroke-width="1.25"/>
<text x="56.4" y="218.0" font-family='"Liberation Serif", serif' font-size="33.0" fill="#000" textLength="32.0" lengthAdjust="spacingAndGlyphs">10</text>
<text x="87.2" y="209.0" font-family='"Liberation Serif", serif' font-size="24.5" fill="#000">−</text>
<text x="100.5" y="206.8" font-family='"Liberation Serif", serif' font-size="24.5" fill="#000">4</text>
<text x="56.4" y="315.2" font-family='"Liberation Serif", serif' font-size="33.0" fill="#000" textLength="32.0" lengthAdjust="spacingAndGlyphs">10</text>
<text x="87.2" y="306.2" font-family='"Liberation Serif", serif' font-size="24.5" fill="#000">−</text>
<text x="100.5" y="304.0" font-family='"Liberation Serif", serif' font-size="24.5" fill="#000">5</text>
<text x="56.4" y="412.4" font-family='"Liberation Serif", serif' font-size="33.0" fill="#000" textLength="32.0" lengthAdjust="spacingAndGlyphs">10</text>
<text x="87.2" y="403.4" font-family='"Liberation Serif", serif' font-size="24.5" fill="#000">−</text>
<text x="100.5" y="401.2" font-family='"Liberation Serif", serif' font-size="24.5" fill="#000">6</text>
<text x="56.4" y="703.7" font-family='"Liberation Serif", serif' font-size="33.0" fill="#000" textLength="32.0" lengthAdjust="spacingAndGlyphs">10</text>
<text x="87.2" y="694.7" font-family='"Liberation Serif", serif' font-size="24.5" fill="#000">−</text>
<text x="100.5" y="692.5" font-family='"Liberation Serif", serif' font-size="24.5" fill="#000">4</text>
<text x="56.4" y="801.0" font-family='"Liberation Serif", serif' font-size="33.0" fill="#000" textLength="32.0" lengthAdjust="spacingAndGlyphs">10</text>
<text x="87.2" y="792.0" font-family='"Liberation Serif", serif' font-size="24.5" fill="#000">−</text>
<text x="100.5" y="789.8" font-family='"Liberation Serif", serif' font-size="24.5" fill="#000">5</text>
<text x="56.4" y="898.1" font-family='"Liberation Serif", serif' font-size="33.0" fill="#000" textLength="32.0" lengthAdjust="spacingAndGlyphs">10</text>
<text x="87.2" y="889.1" font-family='"Liberation Serif", serif' font-size="24.5" fill="#000">−</text>
<text x="100.5" y="886.9" font-family='"Liberation Serif", serif' font-size="24.5" fill="#000">6</text>
<text x="589.1" y="365.9" font-family='"Liberation Serif", serif' font-size="33.0" fill="#000" textLength="32.0" lengthAdjust="spacingAndGlyphs">10</text>
<text x="619.9" y="356.9" font-family='"Liberation Serif", serif' font-size="24.5" fill="#000">−</text>
<text x="633.2" y="354.7" font-family='"Liberation Serif", serif' font-size="24.5" fill="#000">2</text>
<text x="589.1" y="406.3" font-family='"Liberation Serif", serif' font-size="33.0" fill="#000" textLength="32.0" lengthAdjust="spacingAndGlyphs">10</text>
<text x="619.9" y="397.3" font-family='"Liberation Serif", serif' font-size="24.5" fill="#000">−</text>
<text x="633.2" y="395.1" font-family='"Liberation Serif", serif' font-size="24.5" fill="#000">3</text>
<text x="589.1" y="446.8" font-family='"Liberation Serif", serif' font-size="33.0" fill="#000" textLength="32.0" lengthAdjust="spacingAndGlyphs">10</text>
<text x="619.9" y="437.8" font-family='"Liberation Serif", serif' font-size="24.5" fill="#000">−</text>
<text x="633.2" y="435.6" font-family='"Liberation Serif", serif' font-size="24.5" fill="#000">4</text>
<text x="589.1" y="709.5" font-family='"Liberation Serif", serif' font-size="33.0" fill="#000" textLength="32.0" lengthAdjust="spacingAndGlyphs">10</text>
<text x="619.9" y="700.5" font-family='"Liberation Serif", serif' font-size="24.5" fill="#000">−</text>
<text x="633.2" y="698.3" font-family='"Liberation Serif", serif' font-size="24.5" fill="#000">2</text>
<text x="589.1" y="750.1" font-family='"Liberation Serif", serif' font-size="33.0" fill="#000" textLength="32.0" lengthAdjust="spacingAndGlyphs">10</text>
<text x="619.9" y="741.1" font-family='"Liberation Serif", serif' font-size="24.5" fill="#000">−</text>
<text x="633.2" y="738.9" font-family='"Liberation Serif", serif' font-size="24.5" fill="#000">3</text>
<text x="589.1" y="790.7" font-family='"Liberation Serif", serif' font-size="33.0" fill="#000" textLength="32.0" lengthAdjust="spacingAndGlyphs">10</text>
<text x="619.9" y="781.7" font-family='"Liberation Serif", serif' font-size="24.5" fill="#000">−</text>
<text x="633.2" y="779.5" font-family='"Liberation Serif", serif' font-size="24.5" fill="#000">4</text>
<text x="183.4" y="1020.8" font-family='"Liberation Serif", serif' font-size="33.0" fill="#000" textLength="32.0" lengthAdjust="spacingAndGlyphs">10</text>
<text x="214.2" y="1011.8" font-family='"Liberation Serif", serif' font-size="24.5" fill="#000">−</text>
<text x="227.5" y="1009.6" font-family='"Liberation Serif", serif' font-size="24.5" fill="#000">2</text>
<text x="363.4" y="1020.8" font-family='"Liberation Serif", serif' font-size="33.0" fill="#000" textLength="32.0" lengthAdjust="spacingAndGlyphs">10</text>
<text x="395.5" y="1009.6" font-family='"Liberation Serif", serif' font-size="24.5" fill="#000">0</text>
<text x="715.5" y="1020.8" font-family='"Liberation Serif", serif' font-size="33.0" fill="#000" textLength="32.0" lengthAdjust="spacingAndGlyphs">10</text>
<text x="746.3" y="1011.8" font-family='"Liberation Serif", serif' font-size="24.5" fill="#000">−</text>
<text x="759.6" y="1009.6" font-family='"Liberation Serif", serif' font-size="24.5" fill="#000">2</text>
<text x="895.5" y="1020.8" font-family='"Liberation Serif", serif' font-size="33.0" fill="#000" textLength="32.0" lengthAdjust="spacingAndGlyphs">10</text>
<text x="927.6" y="1009.6" font-family='"Liberation Serif", serif' font-size="24.5" fill="#000">0</text>
<text x="10.4" y="33.0" font-family='"Liberation Serif", serif' font-size="40" fill="#000">(<tspan font-style="italic">a</tspan>)</text>
<text x="565.8" y="33.0" font-family='"Liberation Serif", serif' font-size="40" fill="#000">(<tspan font-style="italic">b</tspan>)</text>
<text transform="translate(33.0,548.7) rotate(-90)" font-family='"Liberation Serif", serif' font-size="39.7" fill="#000">PSDF</text>
<text x="296.7" y="1059.5" font-family='"Liberation Serif", serif' font-size="39.3" font-style="italic" fill="#000">f</text>
<text transform="translate(316.2,1059.4) scale(0.695,1)" font-family='"Liberation Serif", serif' font-size="40.4" fill="#000">/</text>
<text x="329.1" y="1059.5" font-family='"Liberation Serif", serif' font-size="39.3" font-style="italic" fill="#000">f</text>
<text x="341.9" y="1066.9" font-family='"Liberation Serif", serif' font-size="28.0" font-style="italic" fill="#000">a</text>
<text x="828.8" y="1059.5" font-family='"Liberation Serif", serif' font-size="39.3" font-style="italic" fill="#000">f</text>
<text transform="translate(848.3,1059.4) scale(0.695,1)" font-family='"Liberation Serif", serif' font-size="40.4" fill="#000">/</text>
<text x="861.2" y="1059.5" font-family='"Liberation Serif", serif' font-size="39.3" font-style="italic" fill="#000">f</text>
<text x="874.0" y="1066.9" font-family='"Liberation Serif", serif' font-size="28.0" font-style="italic" fill="#000">a</text>
<text x="144.9" y="164.3" font-family='"Liberation Serif", serif' font-size="33.6" font-style="italic" fill="#000">f</text>
<text x="155.6" y="170.5" font-family='"Liberation Serif", serif' font-size="25.0" font-style="italic" fill="#000">a</text>
<text transform="translate(173.1,164.5) scale(0.816,1)" font-family='"Liberation Serif", serif' font-size="34.4" fill="#000">/</text>
<text x="183.3" y="164.3" font-family='"Liberation Serif", serif' font-size="33.6" font-style="italic" fill="#000">f</text>
<text x="194.5" y="170.5" font-family='"Liberation Serif", serif' font-size="25.8" fill="#000">0</text>
<text x="212.8" y="164.3" font-family='"Liberation Sans", sans-serif' font-size="34.6" fill="#000">=</text>
<text x="239.0" y="164.3" font-family='"Liberation Sans", sans-serif' font-size="28.2" fill="#000">5</text>
<text x="142.0" y="212.2" font-family='"Liberation Serif", serif' font-size="34.5" fill="#000">(</text>
<text x="158.1" y="212.2" font-family='"Liberation Serif", serif' font-size="33.6" font-style="italic" fill="#000">f</text>
<text x="170.1" y="218.4" font-family='"Liberation Serif", serif' font-size="25.0" font-style="italic" fill="#000">a</text>
<text transform="translate(186.6,212.4) scale(0.816,1)" font-family='"Liberation Serif", serif' font-size="34.4" fill="#000">/</text>
<text x="196.6" y="212.2" font-family='"Liberation Serif", serif' font-size="33.6" font-style="italic" fill="#000">f</text>
<text x="207.4" y="218.4" font-family='"Liberation Serif", serif' font-size="25.0" font-style="italic" fill="#000">sh</text>
<text x="237.7" y="212.2" font-family='"Liberation Sans", sans-serif' font-size="34.6" fill="#000">=</text>
<text x="263.1" y="212.2" font-family='"Liberation Sans", sans-serif' font-size="29.0" fill="#000">4</text>
<text x="280.4" y="212.2" font-family='"Liberation Serif", serif' font-size="34.5" fill="#000">)</text>
<text x="137.5" y="677.0" font-family='"Liberation Serif", serif' font-size="33.6" font-style="italic" fill="#000">f</text>
<text x="148.2" y="683.2" font-family='"Liberation Serif", serif' font-size="25.0" font-style="italic" fill="#000">a</text>
<text transform="translate(165.7,677.2) scale(0.816,1)" font-family='"Liberation Serif", serif' font-size="34.4" fill="#000">/</text>
<text x="175.9" y="677.0" font-family='"Liberation Serif", serif' font-size="33.6" font-style="italic" fill="#000">f</text>
<text x="187.1" y="683.2" font-family='"Liberation Serif", serif' font-size="25.8" fill="#000">0</text>
<text transform="translate(205.9,675.9) scale(1,0.72)" font-family='"Liberation Serif", serif' font-size="33.0" fill="#000" stroke="#000" stroke-width="1.5">=</text>
<text x="231.1" y="677.0" font-family='"Liberation Serif", serif' font-size="32.6" fill="#000">2.5</text>
<text x="136.9" y="723.6" font-family='"Liberation Serif", serif' font-size="34.5" fill="#000">(</text>
<text x="153.0" y="723.6" font-family='"Liberation Serif", serif' font-size="33.6" font-style="italic" fill="#000">f</text>
<text x="165.0" y="729.8" font-family='"Liberation Serif", serif' font-size="25.0" font-style="italic" fill="#000">a</text>
<text transform="translate(181.5,723.8) scale(0.816,1)" font-family='"Liberation Serif", serif' font-size="34.4" fill="#000">/</text>
<text x="191.5" y="723.6" font-family='"Liberation Serif", serif' font-size="33.6" font-style="italic" fill="#000">f</text>
<text x="202.3" y="729.8" font-family='"Liberation Serif", serif' font-size="25.0" font-style="italic" fill="#000">sh</text>
<text transform="translate(233.1,722.5) scale(1,0.72)" font-family='"Liberation Serif", serif' font-size="33.0" fill="#000" stroke="#000" stroke-width="1.5">=</text>
<text x="258.1" y="723.6" font-family='"Liberation Serif", serif' font-size="32.6" fill="#000">2</text>
<text x="275.8" y="723.6" font-family='"Liberation Serif", serif' font-size="34.5" fill="#000">)</text>
<text x="719.3" y="204.4" font-family='"Liberation Serif", serif' font-size="33.6" font-style="italic" fill="#000">f</text>
<text x="729.9" y="210.6" font-family='"Liberation Serif", serif' font-size="25.0" font-style="italic" fill="#000">a</text>
<text transform="translate(747.5,204.6) scale(0.816,1)" font-family='"Liberation Serif", serif' font-size="34.4" fill="#000">/</text>
<text x="757.7" y="204.4" font-family='"Liberation Serif", serif' font-size="33.6" font-style="italic" fill="#000">f</text>
<text x="768.9" y="210.6" font-family='"Liberation Serif", serif' font-size="25.8" fill="#000">0</text>
<text x="787.2" y="204.4" font-family='"Liberation Sans", sans-serif' font-size="34.6" fill="#000">=</text>
<text x="813.4" y="204.4" font-family='"Liberation Sans", sans-serif' font-size="28.2" fill="#000">5</text>
<text x="693.9" y="261.5" font-family='"Liberation Serif", serif' font-size="34.5" fill="#000">(</text>
<text x="710.0" y="261.5" font-family='"Liberation Serif", serif' font-size="33.6" font-style="italic" fill="#000">f</text>
<text x="721.9" y="267.7" font-family='"Liberation Serif", serif' font-size="25.0" font-style="italic" fill="#000">a</text>
<text transform="translate(738.5,261.7) scale(0.816,1)" font-family='"Liberation Serif", serif' font-size="34.4" fill="#000">/</text>
<text x="748.5" y="261.5" font-family='"Liberation Serif", serif' font-size="33.6" font-style="italic" fill="#000">f</text>
<text x="759.3" y="267.7" font-family='"Liberation Serif", serif' font-size="25.0" font-style="italic" fill="#000">sh</text>
<text x="789.6" y="261.5" font-family='"Liberation Sans", sans-serif' font-size="34.6" fill="#000">=</text>
<text x="815.0" y="261.5" font-family='"Liberation Sans", sans-serif' font-size="29.0" fill="#000">4</text>
<text x="832.3" y="261.5" font-family='"Liberation Serif", serif' font-size="34.5" fill="#000">)</text>
<text x="711.8" y="591.0" font-family='"Liberation Serif", serif' font-size="33.6" font-style="italic" fill="#000">f</text>
<text x="722.4" y="597.2" font-family='"Liberation Serif", serif' font-size="25.0" font-style="italic" fill="#000">a</text>
<text transform="translate(740.0,591.2) scale(0.816,1)" font-family='"Liberation Serif", serif' font-size="34.4" fill="#000">/</text>
<text x="750.2" y="591.0" font-family='"Liberation Serif", serif' font-size="33.6" font-style="italic" fill="#000">f</text>
<text x="761.4" y="597.2" font-family='"Liberation Serif", serif' font-size="25.8" fill="#000">0</text>
<text transform="translate(780.2,589.9) scale(1,0.72)" font-family='"Liberation Serif", serif' font-size="33.0" fill="#000" stroke="#000" stroke-width="1.5">=</text>
<text x="805.4" y="591.0" font-family='"Liberation Serif", serif' font-size="32.6" fill="#000">2.5</text>
<text x="705.8" y="639.3" font-family='"Liberation Serif", serif' font-size="34.5" fill="#000">(</text>
<text x="721.9" y="639.3" font-family='"Liberation Serif", serif' font-size="33.6" font-style="italic" fill="#000">f</text>
<text x="733.8" y="645.5" font-family='"Liberation Serif", serif' font-size="25.0" font-style="italic" fill="#000">a</text>
<text transform="translate(750.4,639.5) scale(0.816,1)" font-family='"Liberation Serif", serif' font-size="34.4" fill="#000">/</text>
<text x="760.4" y="639.3" font-family='"Liberation Serif", serif' font-size="33.6" font-style="italic" fill="#000">f</text>
<text x="771.2" y="645.5" font-family='"Liberation Serif", serif' font-size="25.0" font-style="italic" fill="#000">sh</text>
<text transform="translate(802.0,638.2) scale(1,0.72)" font-family='"Liberation Serif", serif' font-size="33.0" fill="#000" stroke="#000" stroke-width="1.5">=</text>
<text x="827.0" y="639.3" font-family='"Liberation Serif", serif' font-size="32.6" fill="#000">2</text>
<text x="844.7" y="639.3" font-family='"Liberation Serif", serif' font-size="34.5" fill="#000">)</text>
<text x="293.4" y="130.6" font-family='"Liberation Serif", serif' font-size="33.6" font-style="italic" fill="#0000ff">f</text>
<text x="303.8" y="136.9" font-family='"Liberation Serif", serif' font-size="25.0" font-style="italic" fill="#0000ff">sh</text>
<line x1="314.4" y1="139.3" x2="329.9" y2="210.7" stroke="#0000ff" stroke-width="1.3"/>
<path d="M332.6 223.0 L321.2 206.4 L329.9 210.7 L336.1 203.2Z" fill="#0000ff"/>
<text x="425.9" y="178.0" font-family='"Liberation Serif", serif' font-size="33.6" font-style="italic" fill="#0000ff">f</text>
<text x="436.4" y="184.3" font-family='"Liberation Serif", serif' font-size="25.0" font-style="italic" fill="#0000ff">a</text>
<line x1="439.3" y1="187.4" x2="391.6" y2="271.9" stroke="#0000ff" stroke-width="1.3"/>
<path d="M385.4 282.8 L387.9 262.9 L391.6 271.9 L401.2 270.4Z" fill="#0000ff"/>
<text x="262.0" y="569.2" font-family='"Liberation Serif", serif' font-size="33.6" font-style="italic" fill="#0000ff">f</text>
<text x="272.4" y="575.5" font-family='"Liberation Serif", serif' font-size="25.0" font-style="italic" fill="#0000ff">sh</text>
<line x1="302.7" y1="580.2" x2="350.0" y2="653.4" stroke="#0000ff" stroke-width="1.3"/>
<path d="M356.8 663.9 L340.3 652.4 L350.0 653.4 L353.1 644.2Z" fill="#0000ff"/>
<text x="438.4" y="569.2" font-family='"Liberation Serif", serif' font-size="33.6" font-style="italic" fill="#0000ff">f</text>
<text x="448.9" y="575.5" font-family='"Liberation Serif", serif' font-size="25.0" font-style="italic" fill="#0000ff">a</text>
<line x1="439.6" y1="580.6" x2="398.4" y2="641.6" stroke="#0000ff" stroke-width="1.3"/>
<path d="M391.4 652.0 L395.5 632.4 L398.4 641.6 L408.1 640.9Z" fill="#0000ff"/>
<text x="929.6" y="177.5" font-family='"Liberation Serif", serif' font-size="33.6" font-style="italic" fill="#0000ff">f</text>
<text x="940.1" y="183.8" font-family='"Liberation Serif", serif' font-size="25.0" font-style="italic" fill="#0000ff">a</text>
<line x1="941.9" y1="187.3" x2="920.9" y2="258.7" stroke="#0000ff" stroke-width="1.3"/>
<path d="M917.3 270.8 L915.3 250.8 L920.9 258.7 L929.8 255.1Z" fill="#0000ff"/>
<text x="866.0" y="257.8" font-family='"Liberation Serif", serif' font-size="33.6" font-style="italic" fill="#0000ff">f</text>
<text x="876.4" y="264.1" font-family='"Liberation Serif", serif' font-size="25.0" font-style="italic" fill="#0000ff">sh</text>
<line x1="888.9" y1="270.4" x2="868.2" y2="336.3" stroke="#0000ff" stroke-width="1.3"/>
<path d="M864.4 348.3 L862.7 328.3 L868.2 336.3 L877.2 332.8Z" fill="#0000ff"/>
<text x="826.2" y="507.7" font-family='"Liberation Serif", serif' font-size="33.6" font-style="italic" fill="#0000ff">f</text>
<text x="836.6" y="514.0" font-family='"Liberation Serif", serif' font-size="25.0" font-style="italic" fill="#0000ff">sh</text>
<line x1="852.8" y1="520.7" x2="885.4" y2="628.3" stroke="#0000ff" stroke-width="1.3"/>
<path d="M889.0 640.4 L876.4 624.8 L885.4 628.3 L890.9 620.4Z" fill="#0000ff"/>
<text x="922.5" y="534.5" font-family='"Liberation Serif", serif' font-size="33.6" font-style="italic" fill="#0000ff">f</text>
<text x="933.0" y="540.8" font-family='"Liberation Serif", serif' font-size="25.0" font-style="italic" fill="#0000ff">a</text>
<line x1="936.1" y1="544.8" x2="920.1" y2="604.7" stroke="#0000ff" stroke-width="1.3"/>
<path d="M916.9 616.9 L914.3 597.0 L920.1 604.7 L929.0 600.9Z" fill="#0000ff"/>
</svg>
</body></html>
